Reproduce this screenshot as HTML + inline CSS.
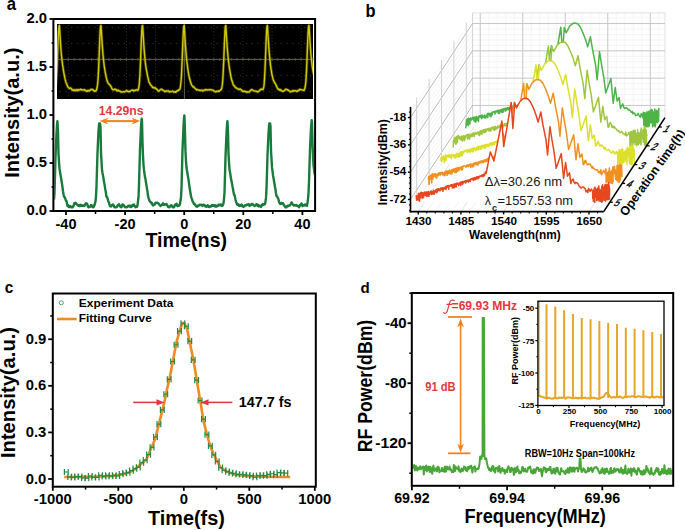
<!DOCTYPE html>
<html><head><meta charset="utf-8"><style>
html,body{margin:0;padding:0;background:#fff;overflow:hidden}
svg{display:block}
text{font-family:"Liberation Sans",sans-serif}
</style></head><body>
<svg width="685" height="530" viewBox="0 0 685 530">
<rect width="685" height="530" fill="#fff"/>
<rect x="57" y="24" width="256" height="75" fill="#000"/>
<g fill="#2e2e28"><rect x="67.8" y="25" width="1" height="1"/><rect x="67.8" y="28.2" width="1" height="1"/><rect x="67.8" y="31.4" width="1" height="1"/><rect x="67.8" y="34.6" width="1" height="1"/><rect x="67.8" y="37.8" width="1" height="1"/><rect x="67.8" y="41" width="1" height="1"/><rect x="67.8" y="44.2" width="1" height="1"/><rect x="67.8" y="47.4" width="1" height="1"/><rect x="67.8" y="50.6" width="1" height="1"/><rect x="67.8" y="53.8" width="1" height="1"/><rect x="67.8" y="57" width="1" height="1"/><rect x="67.8" y="60.2" width="1" height="1"/><rect x="67.8" y="63.4" width="1" height="1"/><rect x="67.8" y="66.6" width="1" height="1"/><rect x="67.8" y="69.8" width="1" height="1"/><rect x="67.8" y="73" width="1" height="1"/><rect x="67.8" y="76.2" width="1" height="1"/><rect x="67.8" y="79.4" width="1" height="1"/><rect x="67.8" y="82.6" width="1" height="1"/><rect x="67.8" y="85.8" width="1" height="1"/><rect x="67.8" y="89" width="1" height="1"/><rect x="67.8" y="92.2" width="1" height="1"/><rect x="67.8" y="95.4" width="1" height="1"/><rect x="96.9" y="25" width="1" height="1"/><rect x="96.9" y="28.2" width="1" height="1"/><rect x="96.9" y="31.4" width="1" height="1"/><rect x="96.9" y="34.6" width="1" height="1"/><rect x="96.9" y="37.8" width="1" height="1"/><rect x="96.9" y="41" width="1" height="1"/><rect x="96.9" y="44.2" width="1" height="1"/><rect x="96.9" y="47.4" width="1" height="1"/><rect x="96.9" y="50.6" width="1" height="1"/><rect x="96.9" y="53.8" width="1" height="1"/><rect x="96.9" y="57" width="1" height="1"/><rect x="96.9" y="60.2" width="1" height="1"/><rect x="96.9" y="63.4" width="1" height="1"/><rect x="96.9" y="66.6" width="1" height="1"/><rect x="96.9" y="69.8" width="1" height="1"/><rect x="96.9" y="73" width="1" height="1"/><rect x="96.9" y="76.2" width="1" height="1"/><rect x="96.9" y="79.4" width="1" height="1"/><rect x="96.9" y="82.6" width="1" height="1"/><rect x="96.9" y="85.8" width="1" height="1"/><rect x="96.9" y="89" width="1" height="1"/><rect x="96.9" y="92.2" width="1" height="1"/><rect x="96.9" y="95.4" width="1" height="1"/><rect x="126" y="25" width="1" height="1"/><rect x="126" y="28.2" width="1" height="1"/><rect x="126" y="31.4" width="1" height="1"/><rect x="126" y="34.6" width="1" height="1"/><rect x="126" y="37.8" width="1" height="1"/><rect x="126" y="41" width="1" height="1"/><rect x="126" y="44.2" width="1" height="1"/><rect x="126" y="47.4" width="1" height="1"/><rect x="126" y="50.6" width="1" height="1"/><rect x="126" y="53.8" width="1" height="1"/><rect x="126" y="57" width="1" height="1"/><rect x="126" y="60.2" width="1" height="1"/><rect x="126" y="63.4" width="1" height="1"/><rect x="126" y="66.6" width="1" height="1"/><rect x="126" y="69.8" width="1" height="1"/><rect x="126" y="73" width="1" height="1"/><rect x="126" y="76.2" width="1" height="1"/><rect x="126" y="79.4" width="1" height="1"/><rect x="126" y="82.6" width="1" height="1"/><rect x="126" y="85.8" width="1" height="1"/><rect x="126" y="89" width="1" height="1"/><rect x="126" y="92.2" width="1" height="1"/><rect x="126" y="95.4" width="1" height="1"/><rect x="155.1" y="25" width="1" height="1"/><rect x="155.1" y="28.2" width="1" height="1"/><rect x="155.1" y="31.4" width="1" height="1"/><rect x="155.1" y="34.6" width="1" height="1"/><rect x="155.1" y="37.8" width="1" height="1"/><rect x="155.1" y="41" width="1" height="1"/><rect x="155.1" y="44.2" width="1" height="1"/><rect x="155.1" y="47.4" width="1" height="1"/><rect x="155.1" y="50.6" width="1" height="1"/><rect x="155.1" y="53.8" width="1" height="1"/><rect x="155.1" y="57" width="1" height="1"/><rect x="155.1" y="60.2" width="1" height="1"/><rect x="155.1" y="63.4" width="1" height="1"/><rect x="155.1" y="66.6" width="1" height="1"/><rect x="155.1" y="69.8" width="1" height="1"/><rect x="155.1" y="73" width="1" height="1"/><rect x="155.1" y="76.2" width="1" height="1"/><rect x="155.1" y="79.4" width="1" height="1"/><rect x="155.1" y="82.6" width="1" height="1"/><rect x="155.1" y="85.8" width="1" height="1"/><rect x="155.1" y="89" width="1" height="1"/><rect x="155.1" y="92.2" width="1" height="1"/><rect x="155.1" y="95.4" width="1" height="1"/><rect x="184.2" y="25" width="1" height="1"/><rect x="184.2" y="28.2" width="1" height="1"/><rect x="184.2" y="31.4" width="1" height="1"/><rect x="184.2" y="34.6" width="1" height="1"/><rect x="184.2" y="37.8" width="1" height="1"/><rect x="184.2" y="41" width="1" height="1"/><rect x="184.2" y="44.2" width="1" height="1"/><rect x="184.2" y="47.4" width="1" height="1"/><rect x="184.2" y="50.6" width="1" height="1"/><rect x="184.2" y="53.8" width="1" height="1"/><rect x="184.2" y="57" width="1" height="1"/><rect x="184.2" y="60.2" width="1" height="1"/><rect x="184.2" y="63.4" width="1" height="1"/><rect x="184.2" y="66.6" width="1" height="1"/><rect x="184.2" y="69.8" width="1" height="1"/><rect x="184.2" y="73" width="1" height="1"/><rect x="184.2" y="76.2" width="1" height="1"/><rect x="184.2" y="79.4" width="1" height="1"/><rect x="184.2" y="82.6" width="1" height="1"/><rect x="184.2" y="85.8" width="1" height="1"/><rect x="184.2" y="89" width="1" height="1"/><rect x="184.2" y="92.2" width="1" height="1"/><rect x="184.2" y="95.4" width="1" height="1"/><rect x="213.3" y="25" width="1" height="1"/><rect x="213.3" y="28.2" width="1" height="1"/><rect x="213.3" y="31.4" width="1" height="1"/><rect x="213.3" y="34.6" width="1" height="1"/><rect x="213.3" y="37.8" width="1" height="1"/><rect x="213.3" y="41" width="1" height="1"/><rect x="213.3" y="44.2" width="1" height="1"/><rect x="213.3" y="47.4" width="1" height="1"/><rect x="213.3" y="50.6" width="1" height="1"/><rect x="213.3" y="53.8" width="1" height="1"/><rect x="213.3" y="57" width="1" height="1"/><rect x="213.3" y="60.2" width="1" height="1"/><rect x="213.3" y="63.4" width="1" height="1"/><rect x="213.3" y="66.6" width="1" height="1"/><rect x="213.3" y="69.8" width="1" height="1"/><rect x="213.3" y="73" width="1" height="1"/><rect x="213.3" y="76.2" width="1" height="1"/><rect x="213.3" y="79.4" width="1" height="1"/><rect x="213.3" y="82.6" width="1" height="1"/><rect x="213.3" y="85.8" width="1" height="1"/><rect x="213.3" y="89" width="1" height="1"/><rect x="213.3" y="92.2" width="1" height="1"/><rect x="213.3" y="95.4" width="1" height="1"/><rect x="242.4" y="25" width="1" height="1"/><rect x="242.4" y="28.2" width="1" height="1"/><rect x="242.4" y="31.4" width="1" height="1"/><rect x="242.4" y="34.6" width="1" height="1"/><rect x="242.4" y="37.8" width="1" height="1"/><rect x="242.4" y="41" width="1" height="1"/><rect x="242.4" y="44.2" width="1" height="1"/><rect x="242.4" y="47.4" width="1" height="1"/><rect x="242.4" y="50.6" width="1" height="1"/><rect x="242.4" y="53.8" width="1" height="1"/><rect x="242.4" y="57" width="1" height="1"/><rect x="242.4" y="60.2" width="1" height="1"/><rect x="242.4" y="63.4" width="1" height="1"/><rect x="242.4" y="66.6" width="1" height="1"/><rect x="242.4" y="69.8" width="1" height="1"/><rect x="242.4" y="73" width="1" height="1"/><rect x="242.4" y="76.2" width="1" height="1"/><rect x="242.4" y="79.4" width="1" height="1"/><rect x="242.4" y="82.6" width="1" height="1"/><rect x="242.4" y="85.8" width="1" height="1"/><rect x="242.4" y="89" width="1" height="1"/><rect x="242.4" y="92.2" width="1" height="1"/><rect x="242.4" y="95.4" width="1" height="1"/><rect x="271.5" y="25" width="1" height="1"/><rect x="271.5" y="28.2" width="1" height="1"/><rect x="271.5" y="31.4" width="1" height="1"/><rect x="271.5" y="34.6" width="1" height="1"/><rect x="271.5" y="37.8" width="1" height="1"/><rect x="271.5" y="41" width="1" height="1"/><rect x="271.5" y="44.2" width="1" height="1"/><rect x="271.5" y="47.4" width="1" height="1"/><rect x="271.5" y="50.6" width="1" height="1"/><rect x="271.5" y="53.8" width="1" height="1"/><rect x="271.5" y="57" width="1" height="1"/><rect x="271.5" y="60.2" width="1" height="1"/><rect x="271.5" y="63.4" width="1" height="1"/><rect x="271.5" y="66.6" width="1" height="1"/><rect x="271.5" y="69.8" width="1" height="1"/><rect x="271.5" y="73" width="1" height="1"/><rect x="271.5" y="76.2" width="1" height="1"/><rect x="271.5" y="79.4" width="1" height="1"/><rect x="271.5" y="82.6" width="1" height="1"/><rect x="271.5" y="85.8" width="1" height="1"/><rect x="271.5" y="89" width="1" height="1"/><rect x="271.5" y="92.2" width="1" height="1"/><rect x="271.5" y="95.4" width="1" height="1"/><rect x="300.6" y="25" width="1" height="1"/><rect x="300.6" y="28.2" width="1" height="1"/><rect x="300.6" y="31.4" width="1" height="1"/><rect x="300.6" y="34.6" width="1" height="1"/><rect x="300.6" y="37.8" width="1" height="1"/><rect x="300.6" y="41" width="1" height="1"/><rect x="300.6" y="44.2" width="1" height="1"/><rect x="300.6" y="47.4" width="1" height="1"/><rect x="300.6" y="50.6" width="1" height="1"/><rect x="300.6" y="53.8" width="1" height="1"/><rect x="300.6" y="57" width="1" height="1"/><rect x="300.6" y="60.2" width="1" height="1"/><rect x="300.6" y="63.4" width="1" height="1"/><rect x="300.6" y="66.6" width="1" height="1"/><rect x="300.6" y="69.8" width="1" height="1"/><rect x="300.6" y="73" width="1" height="1"/><rect x="300.6" y="76.2" width="1" height="1"/><rect x="300.6" y="79.4" width="1" height="1"/><rect x="300.6" y="82.6" width="1" height="1"/><rect x="300.6" y="85.8" width="1" height="1"/><rect x="300.6" y="89" width="1" height="1"/><rect x="300.6" y="92.2" width="1" height="1"/><rect x="300.6" y="95.4" width="1" height="1"/><rect x="59.5" y="26.9" width="1.2" height="1.2"/><rect x="65.32" y="26.9" width="1.2" height="1.2"/><rect x="71.14" y="26.9" width="1.2" height="1.2"/><rect x="76.96" y="26.9" width="1.2" height="1.2"/><rect x="82.78" y="26.9" width="1.2" height="1.2"/><rect x="88.6" y="26.9" width="1.2" height="1.2"/><rect x="94.42" y="26.9" width="1.2" height="1.2"/><rect x="100.24" y="26.9" width="1.2" height="1.2"/><rect x="106.06" y="26.9" width="1.2" height="1.2"/><rect x="111.88" y="26.9" width="1.2" height="1.2"/><rect x="117.7" y="26.9" width="1.2" height="1.2"/><rect x="123.52" y="26.9" width="1.2" height="1.2"/><rect x="129.34" y="26.9" width="1.2" height="1.2"/><rect x="135.16" y="26.9" width="1.2" height="1.2"/><rect x="140.98" y="26.9" width="1.2" height="1.2"/><rect x="146.8" y="26.9" width="1.2" height="1.2"/><rect x="152.62" y="26.9" width="1.2" height="1.2"/><rect x="158.44" y="26.9" width="1.2" height="1.2"/><rect x="164.26" y="26.9" width="1.2" height="1.2"/><rect x="170.08" y="26.9" width="1.2" height="1.2"/><rect x="175.9" y="26.9" width="1.2" height="1.2"/><rect x="181.72" y="26.9" width="1.2" height="1.2"/><rect x="187.54" y="26.9" width="1.2" height="1.2"/><rect x="193.36" y="26.9" width="1.2" height="1.2"/><rect x="199.18" y="26.9" width="1.2" height="1.2"/><rect x="205" y="26.9" width="1.2" height="1.2"/><rect x="210.82" y="26.9" width="1.2" height="1.2"/><rect x="216.64" y="26.9" width="1.2" height="1.2"/><rect x="222.46" y="26.9" width="1.2" height="1.2"/><rect x="228.28" y="26.9" width="1.2" height="1.2"/><rect x="234.1" y="26.9" width="1.2" height="1.2"/><rect x="239.92" y="26.9" width="1.2" height="1.2"/><rect x="245.74" y="26.9" width="1.2" height="1.2"/><rect x="251.56" y="26.9" width="1.2" height="1.2"/><rect x="257.38" y="26.9" width="1.2" height="1.2"/><rect x="263.2" y="26.9" width="1.2" height="1.2"/><rect x="269.02" y="26.9" width="1.2" height="1.2"/><rect x="274.84" y="26.9" width="1.2" height="1.2"/><rect x="280.66" y="26.9" width="1.2" height="1.2"/><rect x="286.48" y="26.9" width="1.2" height="1.2"/><rect x="292.3" y="26.9" width="1.2" height="1.2"/><rect x="298.12" y="26.9" width="1.2" height="1.2"/><rect x="303.94" y="26.9" width="1.2" height="1.2"/><rect x="309.76" y="26.9" width="1.2" height="1.2"/><rect x="59.5" y="42.9" width="1.2" height="1.2"/><rect x="65.32" y="42.9" width="1.2" height="1.2"/><rect x="71.14" y="42.9" width="1.2" height="1.2"/><rect x="76.96" y="42.9" width="1.2" height="1.2"/><rect x="82.78" y="42.9" width="1.2" height="1.2"/><rect x="88.6" y="42.9" width="1.2" height="1.2"/><rect x="94.42" y="42.9" width="1.2" height="1.2"/><rect x="100.24" y="42.9" width="1.2" height="1.2"/><rect x="106.06" y="42.9" width="1.2" height="1.2"/><rect x="111.88" y="42.9" width="1.2" height="1.2"/><rect x="117.7" y="42.9" width="1.2" height="1.2"/><rect x="123.52" y="42.9" width="1.2" height="1.2"/><rect x="129.34" y="42.9" width="1.2" height="1.2"/><rect x="135.16" y="42.9" width="1.2" height="1.2"/><rect x="140.98" y="42.9" width="1.2" height="1.2"/><rect x="146.8" y="42.9" width="1.2" height="1.2"/><rect x="152.62" y="42.9" width="1.2" height="1.2"/><rect x="158.44" y="42.9" width="1.2" height="1.2"/><rect x="164.26" y="42.9" width="1.2" height="1.2"/><rect x="170.08" y="42.9" width="1.2" height="1.2"/><rect x="175.9" y="42.9" width="1.2" height="1.2"/><rect x="181.72" y="42.9" width="1.2" height="1.2"/><rect x="187.54" y="42.9" width="1.2" height="1.2"/><rect x="193.36" y="42.9" width="1.2" height="1.2"/><rect x="199.18" y="42.9" width="1.2" height="1.2"/><rect x="205" y="42.9" width="1.2" height="1.2"/><rect x="210.82" y="42.9" width="1.2" height="1.2"/><rect x="216.64" y="42.9" width="1.2" height="1.2"/><rect x="222.46" y="42.9" width="1.2" height="1.2"/><rect x="228.28" y="42.9" width="1.2" height="1.2"/><rect x="234.1" y="42.9" width="1.2" height="1.2"/><rect x="239.92" y="42.9" width="1.2" height="1.2"/><rect x="245.74" y="42.9" width="1.2" height="1.2"/><rect x="251.56" y="42.9" width="1.2" height="1.2"/><rect x="257.38" y="42.9" width="1.2" height="1.2"/><rect x="263.2" y="42.9" width="1.2" height="1.2"/><rect x="269.02" y="42.9" width="1.2" height="1.2"/><rect x="274.84" y="42.9" width="1.2" height="1.2"/><rect x="280.66" y="42.9" width="1.2" height="1.2"/><rect x="286.48" y="42.9" width="1.2" height="1.2"/><rect x="292.3" y="42.9" width="1.2" height="1.2"/><rect x="298.12" y="42.9" width="1.2" height="1.2"/><rect x="303.94" y="42.9" width="1.2" height="1.2"/><rect x="309.76" y="42.9" width="1.2" height="1.2"/><rect x="59.5" y="74.9" width="1.2" height="1.2"/><rect x="65.32" y="74.9" width="1.2" height="1.2"/><rect x="71.14" y="74.9" width="1.2" height="1.2"/><rect x="76.96" y="74.9" width="1.2" height="1.2"/><rect x="82.78" y="74.9" width="1.2" height="1.2"/><rect x="88.6" y="74.9" width="1.2" height="1.2"/><rect x="94.42" y="74.9" width="1.2" height="1.2"/><rect x="100.24" y="74.9" width="1.2" height="1.2"/><rect x="106.06" y="74.9" width="1.2" height="1.2"/><rect x="111.88" y="74.9" width="1.2" height="1.2"/><rect x="117.7" y="74.9" width="1.2" height="1.2"/><rect x="123.52" y="74.9" width="1.2" height="1.2"/><rect x="129.34" y="74.9" width="1.2" height="1.2"/><rect x="135.16" y="74.9" width="1.2" height="1.2"/><rect x="140.98" y="74.9" width="1.2" height="1.2"/><rect x="146.8" y="74.9" width="1.2" height="1.2"/><rect x="152.62" y="74.9" width="1.2" height="1.2"/><rect x="158.44" y="74.9" width="1.2" height="1.2"/><rect x="164.26" y="74.9" width="1.2" height="1.2"/><rect x="170.08" y="74.9" width="1.2" height="1.2"/><rect x="175.9" y="74.9" width="1.2" height="1.2"/><rect x="181.72" y="74.9" width="1.2" height="1.2"/><rect x="187.54" y="74.9" width="1.2" height="1.2"/><rect x="193.36" y="74.9" width="1.2" height="1.2"/><rect x="199.18" y="74.9" width="1.2" height="1.2"/><rect x="205" y="74.9" width="1.2" height="1.2"/><rect x="210.82" y="74.9" width="1.2" height="1.2"/><rect x="216.64" y="74.9" width="1.2" height="1.2"/><rect x="222.46" y="74.9" width="1.2" height="1.2"/><rect x="228.28" y="74.9" width="1.2" height="1.2"/><rect x="234.1" y="74.9" width="1.2" height="1.2"/><rect x="239.92" y="74.9" width="1.2" height="1.2"/><rect x="245.74" y="74.9" width="1.2" height="1.2"/><rect x="251.56" y="74.9" width="1.2" height="1.2"/><rect x="257.38" y="74.9" width="1.2" height="1.2"/><rect x="263.2" y="74.9" width="1.2" height="1.2"/><rect x="269.02" y="74.9" width="1.2" height="1.2"/><rect x="274.84" y="74.9" width="1.2" height="1.2"/><rect x="280.66" y="74.9" width="1.2" height="1.2"/><rect x="286.48" y="74.9" width="1.2" height="1.2"/><rect x="292.3" y="74.9" width="1.2" height="1.2"/><rect x="298.12" y="74.9" width="1.2" height="1.2"/><rect x="303.94" y="74.9" width="1.2" height="1.2"/><rect x="309.76" y="74.9" width="1.2" height="1.2"/><rect x="59.5" y="90.9" width="1.2" height="1.2"/><rect x="65.32" y="90.9" width="1.2" height="1.2"/><rect x="71.14" y="90.9" width="1.2" height="1.2"/><rect x="76.96" y="90.9" width="1.2" height="1.2"/><rect x="82.78" y="90.9" width="1.2" height="1.2"/><rect x="88.6" y="90.9" width="1.2" height="1.2"/><rect x="94.42" y="90.9" width="1.2" height="1.2"/><rect x="100.24" y="90.9" width="1.2" height="1.2"/><rect x="106.06" y="90.9" width="1.2" height="1.2"/><rect x="111.88" y="90.9" width="1.2" height="1.2"/><rect x="117.7" y="90.9" width="1.2" height="1.2"/><rect x="123.52" y="90.9" width="1.2" height="1.2"/><rect x="129.34" y="90.9" width="1.2" height="1.2"/><rect x="135.16" y="90.9" width="1.2" height="1.2"/><rect x="140.98" y="90.9" width="1.2" height="1.2"/><rect x="146.8" y="90.9" width="1.2" height="1.2"/><rect x="152.62" y="90.9" width="1.2" height="1.2"/><rect x="158.44" y="90.9" width="1.2" height="1.2"/><rect x="164.26" y="90.9" width="1.2" height="1.2"/><rect x="170.08" y="90.9" width="1.2" height="1.2"/><rect x="175.9" y="90.9" width="1.2" height="1.2"/><rect x="181.72" y="90.9" width="1.2" height="1.2"/><rect x="187.54" y="90.9" width="1.2" height="1.2"/><rect x="193.36" y="90.9" width="1.2" height="1.2"/><rect x="199.18" y="90.9" width="1.2" height="1.2"/><rect x="205" y="90.9" width="1.2" height="1.2"/><rect x="210.82" y="90.9" width="1.2" height="1.2"/><rect x="216.64" y="90.9" width="1.2" height="1.2"/><rect x="222.46" y="90.9" width="1.2" height="1.2"/><rect x="228.28" y="90.9" width="1.2" height="1.2"/><rect x="234.1" y="90.9" width="1.2" height="1.2"/><rect x="239.92" y="90.9" width="1.2" height="1.2"/><rect x="245.74" y="90.9" width="1.2" height="1.2"/><rect x="251.56" y="90.9" width="1.2" height="1.2"/><rect x="257.38" y="90.9" width="1.2" height="1.2"/><rect x="263.2" y="90.9" width="1.2" height="1.2"/><rect x="269.02" y="90.9" width="1.2" height="1.2"/><rect x="274.84" y="90.9" width="1.2" height="1.2"/><rect x="280.66" y="90.9" width="1.2" height="1.2"/><rect x="286.48" y="90.9" width="1.2" height="1.2"/><rect x="292.3" y="90.9" width="1.2" height="1.2"/><rect x="298.12" y="90.9" width="1.2" height="1.2"/><rect x="303.94" y="90.9" width="1.2" height="1.2"/><rect x="309.76" y="90.9" width="1.2" height="1.2"/></g>
<line x1="57" y1="59.4" x2="313" y2="59.4" stroke="#726e5c" stroke-width="0.9"/>
<g fill="#57544a"><rect x="67.7" y="58.2" width="1.2" height="2.4"/><rect x="73.52" y="58.2" width="1.2" height="2.4"/><rect x="79.34" y="58.2" width="1.2" height="2.4"/><rect x="85.16" y="58.2" width="1.2" height="2.4"/><rect x="90.98" y="58.2" width="1.2" height="2.4"/><rect x="96.8" y="58.2" width="1.2" height="2.4"/><rect x="102.62" y="58.2" width="1.2" height="2.4"/><rect x="108.44" y="58.2" width="1.2" height="2.4"/><rect x="114.26" y="58.2" width="1.2" height="2.4"/><rect x="120.08" y="58.2" width="1.2" height="2.4"/><rect x="125.9" y="58.2" width="1.2" height="2.4"/><rect x="131.72" y="58.2" width="1.2" height="2.4"/><rect x="137.54" y="58.2" width="1.2" height="2.4"/><rect x="143.36" y="58.2" width="1.2" height="2.4"/><rect x="149.18" y="58.2" width="1.2" height="2.4"/><rect x="155" y="58.2" width="1.2" height="2.4"/><rect x="160.82" y="58.2" width="1.2" height="2.4"/><rect x="166.64" y="58.2" width="1.2" height="2.4"/><rect x="172.46" y="58.2" width="1.2" height="2.4"/><rect x="178.28" y="58.2" width="1.2" height="2.4"/><rect x="184.1" y="58.2" width="1.2" height="2.4"/><rect x="189.92" y="58.2" width="1.2" height="2.4"/><rect x="195.74" y="58.2" width="1.2" height="2.4"/><rect x="201.56" y="58.2" width="1.2" height="2.4"/><rect x="207.38" y="58.2" width="1.2" height="2.4"/><rect x="213.2" y="58.2" width="1.2" height="2.4"/><rect x="219.02" y="58.2" width="1.2" height="2.4"/><rect x="224.84" y="58.2" width="1.2" height="2.4"/><rect x="230.66" y="58.2" width="1.2" height="2.4"/><rect x="236.48" y="58.2" width="1.2" height="2.4"/><rect x="242.3" y="58.2" width="1.2" height="2.4"/><rect x="248.12" y="58.2" width="1.2" height="2.4"/><rect x="253.94" y="58.2" width="1.2" height="2.4"/><rect x="259.76" y="58.2" width="1.2" height="2.4"/><rect x="265.58" y="58.2" width="1.2" height="2.4"/><rect x="271.4" y="58.2" width="1.2" height="2.4"/><rect x="277.22" y="58.2" width="1.2" height="2.4"/><rect x="283.04" y="58.2" width="1.2" height="2.4"/><rect x="288.86" y="58.2" width="1.2" height="2.4"/><rect x="294.68" y="58.2" width="1.2" height="2.4"/><rect x="300.5" y="58.2" width="1.2" height="2.4"/><rect x="306.32" y="58.2" width="1.2" height="2.4"/><rect x="312.14" y="58.2" width="1.2" height="2.4"/></g>
<line x1="184.4" y1="24" x2="184.4" y2="99" stroke="#6a6656" stroke-width="0.9"/>
<clipPath id="ci"><rect x="57" y="24" width="256" height="75"/></clipPath>
<g clip-path="url(#ci)"><polyline points="55,89.57 55.4,88.34 55.8,86.12 56.2,82.28 56.6,76.41 57,68.64 57.4,58.96 57.8,48.77 58.2,38.69 58.6,30.56 59,26.08 59.4,25.5 59.8,31.38 60.2,38.51 60.6,44.59 61,49.84 61.4,54.81 61.8,58.64 62.2,61.95 62.6,64.96 63,67.45 63.4,70.12 63.8,72.6 64.2,74.77 64.6,76.83 65,78.69 65.4,80.25 65.8,81.95 66.2,83.02 66.6,83.84 67,84.8 67.4,85.93 67.8,86.75 68.2,87.5 68.6,87.73 69,87.99 69.4,88.39 69.8,87.95 70.2,88.06 70.6,87.95 71,88.31 71.4,88.58 71.8,89.39 72.2,90.05 72.6,90.13 73,89.77 73.4,90.33 73.8,90.1 74.2,90.71 74.6,90.3 75,89.68 75.4,90.3 75.8,90.85 76.2,90.33 76.6,90.04 77,89.5 77.4,90.03 77.8,90.67 78.2,90.24 78.6,89.79 79,89.66 79.4,89.65 79.8,90.08 80.2,89.4 80.6,89.23 81,89.53 81.4,89.49 81.8,90.06 82.2,90.13 82.6,90 83,89.95 83.4,89.84 83.8,89.63 84.2,89.71 84.6,89.92 85,90.52 85.4,90.22 85.8,90.91 86.2,90.72 86.6,90.89 87,91.41 87.4,91.12 87.8,90.49 88.2,91.1 88.6,90.51 89,90.55 89.4,90.89 89.8,90.42 90.2,90.11 90.6,90.09 91,89.29 91.4,89.62 91.8,89.61 92.2,89.46 92.6,89.49 93,89.63 93.4,90.42 93.8,90.77 94.2,90.76 94.6,91.31 95,90.92 95.4,90.67 95.8,90.93 96.2,90.49 96.6,89.63 97,88.02 97.4,85.65 97.8,82.53 98.2,76.92 98.6,69.22 99,59.67 99.4,49.18 99.8,38.93 100.2,30.64 100.6,26.09 101,25.5 101.4,31.31 101.8,38.22 102.2,44.24 102.6,49.74 103,54.7 103.4,59.04 103.8,62.39 104.2,65.93 104.6,68.46 105,70.98 105.4,73.05 105.8,75.2 106.2,77.18 106.6,78.8 107,80.32 107.4,81.63 107.8,82.53 108.2,83.25 108.6,83.75 109,84.02 109.4,84.57 109.8,84.68 110.2,85.48 110.6,86.01 111,86.47 111.4,87.2 111.8,88.29 112.2,88.97 112.6,89.49 113,89.71 113.4,89.91 113.8,89.79 114.2,89.17 114.6,89.24 115,89.39 115.4,89.72 115.8,89.32 116.2,89.83 116.6,90.29 117,90.98 117.4,90.51 117.8,90.82 118.2,90.08 118.6,90.58 119,90.7 119.4,91.1 119.8,91.13 120.2,91.5 120.6,91.33 121,92.1 121.4,91.94 121.8,91.91 122.2,91.92 122.6,92.05 123,91.8 123.4,91.81 123.8,91.77 124.2,91.98 124.6,91.93 125,91.47 125.4,91.22 125.8,91.39 126.2,90.77 126.6,90.57 127,90.95 127.4,91.18 127.8,91.48 128.2,91.31 128.6,91.43 129,91.87 129.4,91.7 129.8,91.56 130.2,90.86 130.6,90.88 131,90.56 131.4,90.44 131.8,90.35 132.2,90.16 132.6,90.04 133,90.41 133.4,90.29 133.8,91.08 134.2,90.77 134.6,90.36 135,90.42 135.4,90.4 135.8,90.14 136.2,89.73 136.6,89.7 137,90 137.4,90.25 137.8,90.46 138.2,89.49 138.6,88.62 139,86.35 139.4,82.23 139.8,76.73 140.2,69.31 140.6,59.71 141,49.11 141.4,38.83 141.8,30.66 142.2,26.09 142.6,25.5 143,31.34 143.4,38.31 143.8,44.55 144.2,50.13 144.6,54.95 145,59.23 145.4,62.98 145.8,65.99 146.2,68.53 146.6,70.89 147,72.91 147.4,75.03 147.8,76.87 148.2,78.69 148.6,80.59 149,81.99 149.4,82.8 149.8,83.27 150.2,84.41 150.6,84.92 151,85.46 151.4,85.68 151.8,86.06 152.2,87.11 152.6,87.49 153,87.21 153.4,87.86 153.8,87.54 154.2,88 154.6,88.15 155,87.76 155.4,87.95 155.8,88.52 156.2,88.64 156.6,89.28 157,89.23 157.4,89.81 157.8,90.61 158.2,91.24 158.6,90.93 159,91 159.4,90.65 159.8,90.12 160.2,89.86 160.6,89.68 161,89.26 161.4,89.35 161.8,89.26 162.2,89.74 162.6,90.21 163,90.35 163.4,90.4 163.8,90.6 164.2,91.07 164.6,91.58 165,91.05 165.4,91.42 165.8,91.52 166.2,90.97 166.6,91.03 167,90.88 167.4,90.89 167.8,91.15 168.2,90.83 168.6,90.97 169,91.57 169.4,92.01 169.8,91.87 170.2,91.64 170.6,91.49 171,91.62 171.4,91.57 171.8,91.43 172.2,91.23 172.6,91.01 173,91.23 173.4,91.92 173.8,92.15 174.2,91.9 174.6,92.03 175,91.68 175.4,92.3 175.8,92.26 176.2,91.7 176.6,90.91 177,90.82 177.4,90.6 177.8,91 178.2,90.6 178.6,89.81 179,90.08 179.4,89.75 179.8,89.41 180.2,87.82 180.6,85.2 181,81.75 181.4,76.27 181.8,68.25 182.2,59.1 182.6,48.64 183,38.71 183.4,30.63 183.8,26.09 184.2,25.5 184.6,31.46 185,38.5 185.4,44.62 185.8,50 186.2,54.65 186.6,58.78 187,62.57 187.4,65.62 187.8,68.96 188.2,71.74 188.6,73.88 189,75.95 189.4,77.8 189.8,79.56 190.2,80.71 190.6,81.94 191,83.33 191.4,84.45 191.8,85.45 192.2,85.68 192.6,86.03 193,86.85 193.4,87.15 193.8,86.81 194.2,87.58 194.6,87.87 195,88.35 195.4,88.85 195.8,89.14 196.2,89.25 196.6,90.02 197,89.39 197.4,89.56 197.8,89.7 198.2,89.95 198.6,90.36 199,90.26 199.4,90.14 199.8,90.27 200.2,90.23 200.6,90.64 201,90.64 201.4,90.29 201.8,90.36 202.2,90.15 202.6,90.61 203,91.07 203.4,90.49 203.8,90.4 204.2,90.01 204.6,89.92 205,89.96 205.4,90.04 205.8,89.51 206.2,89.72 206.6,89.59 207,89.67 207.4,90.15 207.8,90.06 208.2,89.91 208.6,89.85 209,89.72 209.4,89.64 209.8,89.94 210.2,89.62 210.6,89.88 211,89.9 211.4,89.82 211.8,89.83 212.2,89.92 212.6,90.1 213,90.24 213.4,90.63 213.8,90.71 214.2,91.33 214.6,91.35 215,91.45 215.4,91.6 215.8,91.94 216.2,91.46 216.6,91.2 217,91.26 217.4,91.24 217.8,91.47 218.2,91.54 218.6,90.86 219,90.79 219.4,91.15 219.8,90.54 220.2,90.37 220.6,90.09 221,89.37 221.4,89.29 221.8,87.93 222.2,85.4 222.6,82.03 223,76.39 223.4,68.37 223.8,59.1 224.2,48.71 224.6,38.77 225,30.61 225.4,26.09 225.8,25.5 226.2,31.4 226.6,38.46 227,44.5 227.4,49.64 227.8,54.38 228.2,58.35 228.6,61.91 229,65.15 229.4,67.93 229.8,70.41 230.2,72.7 230.6,74.73 231,77.03 231.4,78.89 231.8,80.57 232.2,81.42 232.6,82.42 233,83.97 233.4,85.02 233.8,85.7 234.2,85.81 234.6,86 235,86.85 235.4,87.61 235.8,87.71 236.2,87.67 236.6,87.92 237,88.63 237.4,88.63 237.8,88.78 238.2,89.24 238.6,89.23 239,89.53 239.4,89.19 239.8,89.01 240.2,88.96 240.6,89.44 241,89.57 241.4,89.9 241.8,90.55 242.2,91.01 242.6,90.96 243,91.52 243.4,91.22 243.8,91.41 244.2,91.53 244.6,91.02 245,91.29 245.4,91.61 245.8,91.79 246.2,92.08 246.6,91.58 247,91.67 247.4,92.24 247.8,92.05 248.2,92.08 248.6,92.08 249,91.72 249.4,92.01 249.8,91.28 250.2,90.81 250.6,90.61 251,89.94 251.4,89.58 251.8,89.79 252.2,89.7 252.6,89.85 253,90.39 253.4,90.56 253.8,90.86 254.2,91.13 254.6,91.07 255,90.99 255.4,91.13 255.8,91.18 256.2,91.16 256.6,91.48 257,91.57 257.4,91.94 257.8,91.48 258.2,91.69 258.6,91.45 259,91.11 259.4,90.84 259.8,90.21 260.2,89.51 260.6,89.83 261,89.36 261.4,88.91 261.8,89.43 262.2,89.42 262.6,89.52 263,89.54 263.4,88.43 263.8,86.89 264.2,83.4 264.6,77.61 265,69.51 265.4,59.91 265.8,49.16 266.2,38.78 266.6,30.63 267,26.09 267.4,25.5 267.8,31.3 268.2,38.21 268.6,44.28 269,49.66 269.4,54.41 269.8,58.72 270.2,62.46 270.6,65.98 271,68.81 271.4,71.17 271.8,73.81 272.2,75.55 272.6,77.21 273,78.9 273.4,80.05 273.8,80.98 274.2,82.01 274.6,82.46 275,82.95 275.4,84.05 275.8,84.42 276.2,85.48 276.6,86.59 277,86.87 277.4,88.06 277.8,89.08 278.2,88.81 278.6,89.53 279,89.36 279.4,89.34 279.8,90.33 280.2,89.85 280.6,89.62 281,90.51 281.4,90.46 281.8,90.6 282.2,91.13 282.6,91.07 283,91.46 283.4,91.16 283.8,90.93 284.2,90.75 284.6,90.55 285,89.77 285.4,89.54 285.8,89.15 286.2,89.46 286.6,89.52 287,89.54 287.4,89.61 287.8,90.1 288.2,90.01 288.6,90.61 289,90.7 289.4,91 289.8,91.45 290.2,91.87 290.6,91.58 291,91.31 291.4,91.42 291.8,91.65 292.2,91.32 292.6,90.79 293,90.39 293.4,90.79 293.8,91.19 294.2,90.92 294.6,90.79 295,90.91 295.4,90.76 295.8,90.74 296.2,91 296.6,91.32 297,91.57 297.4,91.04 297.8,90.43 298.2,90.5 298.6,90.66 299,90.34 299.4,89.62 299.8,89.32 300.2,89.35 300.6,89.37 301,89.73 301.4,89.85 301.8,89.85 302.2,90.09 302.6,90.03 303,90.13 303.4,90.3 303.8,90.23 304.2,90.17 304.6,89.03 305,87.55 305.4,85.57 305.8,82.18 306.2,76.88 306.6,68.84 307,59.16 307.4,48.77 307.8,38.78 308.2,30.6 308.6,26.09 309,25.5 309.4,31.35 309.8,38.37 310.2,44.68 310.6,50.21 311,55.09 311.4,59.25 311.8,62.57 312.2,66.16 312.6,68.8 313,70.95 313.4,72.96 313.8,74.96" fill="none" stroke="#7a7600" stroke-width="3.0" stroke-linejoin="round" opacity="0.5"/><polyline points="55,89.57 55.4,88.34 55.8,86.12 56.2,82.28 56.6,76.41 57,68.64 57.4,58.96 57.8,48.77 58.2,38.69 58.6,30.56 59,26.08 59.4,25.5 59.8,31.38 60.2,38.51 60.6,44.59 61,49.84 61.4,54.81 61.8,58.64 62.2,61.95 62.6,64.96 63,67.45 63.4,70.12 63.8,72.6 64.2,74.77 64.6,76.83 65,78.69 65.4,80.25 65.8,81.95 66.2,83.02 66.6,83.84 67,84.8 67.4,85.93 67.8,86.75 68.2,87.5 68.6,87.73 69,87.99 69.4,88.39 69.8,87.95 70.2,88.06 70.6,87.95 71,88.31 71.4,88.58 71.8,89.39 72.2,90.05 72.6,90.13 73,89.77 73.4,90.33 73.8,90.1 74.2,90.71 74.6,90.3 75,89.68 75.4,90.3 75.8,90.85 76.2,90.33 76.6,90.04 77,89.5 77.4,90.03 77.8,90.67 78.2,90.24 78.6,89.79 79,89.66 79.4,89.65 79.8,90.08 80.2,89.4 80.6,89.23 81,89.53 81.4,89.49 81.8,90.06 82.2,90.13 82.6,90 83,89.95 83.4,89.84 83.8,89.63 84.2,89.71 84.6,89.92 85,90.52 85.4,90.22 85.8,90.91 86.2,90.72 86.6,90.89 87,91.41 87.4,91.12 87.8,90.49 88.2,91.1 88.6,90.51 89,90.55 89.4,90.89 89.8,90.42 90.2,90.11 90.6,90.09 91,89.29 91.4,89.62 91.8,89.61 92.2,89.46 92.6,89.49 93,89.63 93.4,90.42 93.8,90.77 94.2,90.76 94.6,91.31 95,90.92 95.4,90.67 95.8,90.93 96.2,90.49 96.6,89.63 97,88.02 97.4,85.65 97.8,82.53 98.2,76.92 98.6,69.22 99,59.67 99.4,49.18 99.8,38.93 100.2,30.64 100.6,26.09 101,25.5 101.4,31.31 101.8,38.22 102.2,44.24 102.6,49.74 103,54.7 103.4,59.04 103.8,62.39 104.2,65.93 104.6,68.46 105,70.98 105.4,73.05 105.8,75.2 106.2,77.18 106.6,78.8 107,80.32 107.4,81.63 107.8,82.53 108.2,83.25 108.6,83.75 109,84.02 109.4,84.57 109.8,84.68 110.2,85.48 110.6,86.01 111,86.47 111.4,87.2 111.8,88.29 112.2,88.97 112.6,89.49 113,89.71 113.4,89.91 113.8,89.79 114.2,89.17 114.6,89.24 115,89.39 115.4,89.72 115.8,89.32 116.2,89.83 116.6,90.29 117,90.98 117.4,90.51 117.8,90.82 118.2,90.08 118.6,90.58 119,90.7 119.4,91.1 119.8,91.13 120.2,91.5 120.6,91.33 121,92.1 121.4,91.94 121.8,91.91 122.2,91.92 122.6,92.05 123,91.8 123.4,91.81 123.8,91.77 124.2,91.98 124.6,91.93 125,91.47 125.4,91.22 125.8,91.39 126.2,90.77 126.6,90.57 127,90.95 127.4,91.18 127.8,91.48 128.2,91.31 128.6,91.43 129,91.87 129.4,91.7 129.8,91.56 130.2,90.86 130.6,90.88 131,90.56 131.4,90.44 131.8,90.35 132.2,90.16 132.6,90.04 133,90.41 133.4,90.29 133.8,91.08 134.2,90.77 134.6,90.36 135,90.42 135.4,90.4 135.8,90.14 136.2,89.73 136.6,89.7 137,90 137.4,90.25 137.8,90.46 138.2,89.49 138.6,88.62 139,86.35 139.4,82.23 139.8,76.73 140.2,69.31 140.6,59.71 141,49.11 141.4,38.83 141.8,30.66 142.2,26.09 142.6,25.5 143,31.34 143.4,38.31 143.8,44.55 144.2,50.13 144.6,54.95 145,59.23 145.4,62.98 145.8,65.99 146.2,68.53 146.6,70.89 147,72.91 147.4,75.03 147.8,76.87 148.2,78.69 148.6,80.59 149,81.99 149.4,82.8 149.8,83.27 150.2,84.41 150.6,84.92 151,85.46 151.4,85.68 151.8,86.06 152.2,87.11 152.6,87.49 153,87.21 153.4,87.86 153.8,87.54 154.2,88 154.6,88.15 155,87.76 155.4,87.95 155.8,88.52 156.2,88.64 156.6,89.28 157,89.23 157.4,89.81 157.8,90.61 158.2,91.24 158.6,90.93 159,91 159.4,90.65 159.8,90.12 160.2,89.86 160.6,89.68 161,89.26 161.4,89.35 161.8,89.26 162.2,89.74 162.6,90.21 163,90.35 163.4,90.4 163.8,90.6 164.2,91.07 164.6,91.58 165,91.05 165.4,91.42 165.8,91.52 166.2,90.97 166.6,91.03 167,90.88 167.4,90.89 167.8,91.15 168.2,90.83 168.6,90.97 169,91.57 169.4,92.01 169.8,91.87 170.2,91.64 170.6,91.49 171,91.62 171.4,91.57 171.8,91.43 172.2,91.23 172.6,91.01 173,91.23 173.4,91.92 173.8,92.15 174.2,91.9 174.6,92.03 175,91.68 175.4,92.3 175.8,92.26 176.2,91.7 176.6,90.91 177,90.82 177.4,90.6 177.8,91 178.2,90.6 178.6,89.81 179,90.08 179.4,89.75 179.8,89.41 180.2,87.82 180.6,85.2 181,81.75 181.4,76.27 181.8,68.25 182.2,59.1 182.6,48.64 183,38.71 183.4,30.63 183.8,26.09 184.2,25.5 184.6,31.46 185,38.5 185.4,44.62 185.8,50 186.2,54.65 186.6,58.78 187,62.57 187.4,65.62 187.8,68.96 188.2,71.74 188.6,73.88 189,75.95 189.4,77.8 189.8,79.56 190.2,80.71 190.6,81.94 191,83.33 191.4,84.45 191.8,85.45 192.2,85.68 192.6,86.03 193,86.85 193.4,87.15 193.8,86.81 194.2,87.58 194.6,87.87 195,88.35 195.4,88.85 195.8,89.14 196.2,89.25 196.6,90.02 197,89.39 197.4,89.56 197.8,89.7 198.2,89.95 198.6,90.36 199,90.26 199.4,90.14 199.8,90.27 200.2,90.23 200.6,90.64 201,90.64 201.4,90.29 201.8,90.36 202.2,90.15 202.6,90.61 203,91.07 203.4,90.49 203.8,90.4 204.2,90.01 204.6,89.92 205,89.96 205.4,90.04 205.8,89.51 206.2,89.72 206.6,89.59 207,89.67 207.4,90.15 207.8,90.06 208.2,89.91 208.6,89.85 209,89.72 209.4,89.64 209.8,89.94 210.2,89.62 210.6,89.88 211,89.9 211.4,89.82 211.8,89.83 212.2,89.92 212.6,90.1 213,90.24 213.4,90.63 213.8,90.71 214.2,91.33 214.6,91.35 215,91.45 215.4,91.6 215.8,91.94 216.2,91.46 216.6,91.2 217,91.26 217.4,91.24 217.8,91.47 218.2,91.54 218.6,90.86 219,90.79 219.4,91.15 219.8,90.54 220.2,90.37 220.6,90.09 221,89.37 221.4,89.29 221.8,87.93 222.2,85.4 222.6,82.03 223,76.39 223.4,68.37 223.8,59.1 224.2,48.71 224.6,38.77 225,30.61 225.4,26.09 225.8,25.5 226.2,31.4 226.6,38.46 227,44.5 227.4,49.64 227.8,54.38 228.2,58.35 228.6,61.91 229,65.15 229.4,67.93 229.8,70.41 230.2,72.7 230.6,74.73 231,77.03 231.4,78.89 231.8,80.57 232.2,81.42 232.6,82.42 233,83.97 233.4,85.02 233.8,85.7 234.2,85.81 234.6,86 235,86.85 235.4,87.61 235.8,87.71 236.2,87.67 236.6,87.92 237,88.63 237.4,88.63 237.8,88.78 238.2,89.24 238.6,89.23 239,89.53 239.4,89.19 239.8,89.01 240.2,88.96 240.6,89.44 241,89.57 241.4,89.9 241.8,90.55 242.2,91.01 242.6,90.96 243,91.52 243.4,91.22 243.8,91.41 244.2,91.53 244.6,91.02 245,91.29 245.4,91.61 245.8,91.79 246.2,92.08 246.6,91.58 247,91.67 247.4,92.24 247.8,92.05 248.2,92.08 248.6,92.08 249,91.72 249.4,92.01 249.8,91.28 250.2,90.81 250.6,90.61 251,89.94 251.4,89.58 251.8,89.79 252.2,89.7 252.6,89.85 253,90.39 253.4,90.56 253.8,90.86 254.2,91.13 254.6,91.07 255,90.99 255.4,91.13 255.8,91.18 256.2,91.16 256.6,91.48 257,91.57 257.4,91.94 257.8,91.48 258.2,91.69 258.6,91.45 259,91.11 259.4,90.84 259.8,90.21 260.2,89.51 260.6,89.83 261,89.36 261.4,88.91 261.8,89.43 262.2,89.42 262.6,89.52 263,89.54 263.4,88.43 263.8,86.89 264.2,83.4 264.6,77.61 265,69.51 265.4,59.91 265.8,49.16 266.2,38.78 266.6,30.63 267,26.09 267.4,25.5 267.8,31.3 268.2,38.21 268.6,44.28 269,49.66 269.4,54.41 269.8,58.72 270.2,62.46 270.6,65.98 271,68.81 271.4,71.17 271.8,73.81 272.2,75.55 272.6,77.21 273,78.9 273.4,80.05 273.8,80.98 274.2,82.01 274.6,82.46 275,82.95 275.4,84.05 275.8,84.42 276.2,85.48 276.6,86.59 277,86.87 277.4,88.06 277.8,89.08 278.2,88.81 278.6,89.53 279,89.36 279.4,89.34 279.8,90.33 280.2,89.85 280.6,89.62 281,90.51 281.4,90.46 281.8,90.6 282.2,91.13 282.6,91.07 283,91.46 283.4,91.16 283.8,90.93 284.2,90.75 284.6,90.55 285,89.77 285.4,89.54 285.8,89.15 286.2,89.46 286.6,89.52 287,89.54 287.4,89.61 287.8,90.1 288.2,90.01 288.6,90.61 289,90.7 289.4,91 289.8,91.45 290.2,91.87 290.6,91.58 291,91.31 291.4,91.42 291.8,91.65 292.2,91.32 292.6,90.79 293,90.39 293.4,90.79 293.8,91.19 294.2,90.92 294.6,90.79 295,90.91 295.4,90.76 295.8,90.74 296.2,91 296.6,91.32 297,91.57 297.4,91.04 297.8,90.43 298.2,90.5 298.6,90.66 299,90.34 299.4,89.62 299.8,89.32 300.2,89.35 300.6,89.37 301,89.73 301.4,89.85 301.8,89.85 302.2,90.09 302.6,90.03 303,90.13 303.4,90.3 303.8,90.23 304.2,90.17 304.6,89.03 305,87.55 305.4,85.57 305.8,82.18 306.2,76.88 306.6,68.84 307,59.16 307.4,48.77 307.8,38.78 308.2,30.6 308.6,26.09 309,25.5 309.4,31.35 309.8,38.37 310.2,44.68 310.6,50.21 311,55.09 311.4,59.25 311.8,62.57 312.2,66.16 312.6,68.8 313,70.95 313.4,72.96 313.8,74.96" fill="none" stroke="#d0ca0a" stroke-width="1.4" stroke-linejoin="round"/></g>
<clipPath id="ca"><rect x="54.3" y="19" width="260.2" height="191"/></clipPath>
<polyline clip-path="url(#ca)" points="54,199.55 54.5,192.59 55,174.99 55.5,157.17 56,144.85 56.5,133.78 57,125.18 57.4,121.2 57.5,122.05 58,131.67 58.5,153.36 59,162.11 59.5,168.44 60,171.74 60.5,174.73 61,177.53 61.5,180.77 62,183.88 62.5,187.23 63,191.23 63.5,194.21 64,196.56 64.5,196.89 65,197.98 65.5,199.45 66,200.85 66.5,201.12 67,203.58 67.5,205.95 68,205.13 68.5,206.68 69,207.13 69.5,207.1 70,205.91 70.5,207.07 71,206.59 71.5,207.3 72,207.3 72.5,207.3 73,206.87 73.5,205.93 74,204.46 74.5,202.98 75,202.99 75.5,203.42 76,203.13 76.5,204.08 77,204.57 77.5,204.58 78,204.97 78.5,205.82 79,205.18 79.5,205.43 80,206.14 80.5,204.78 81,205.66 81.5,205.14 82,205.62 82.5,205.87 83,205.8 83.5,205.46 84,206.08 84.5,205.77 85,204.28 85.5,204.33 86,203.24 86.5,204.29 87,203.61 87.5,204.95 88,206.53 88.5,207.3 89,206.8 89.5,207.08 90,206.67 90.5,206.39 91,204.9 91.5,205.62 92,206.41 92.5,207.01 93,205.69 93.5,207.19 94,206.01 94.5,205.2 95,203.13 95.5,201.36 96,196.25 96.5,185.72 97,168.92 97.5,152.92 98,141.95 98.5,131.33 99,125.37 99.2,123.5 99.5,123.5 99.6,123.5 100,123.5 100.5,127.57 101,152.86 101.5,161.38 102,169.71 102.5,172.93 103,175.63 103.5,178.43 104,181.84 104.5,184.38 105,187.36 105.5,190.46 106,193.27 106.5,196.85 107,196.9 107.5,198.28 108,200.3 108.5,201.75 109,202.39 109.5,204.95 110,206.16 110.5,206.28 111,206.45 111.5,206.13 112,204.9 112.5,205.28 113,204.4 113.5,205.02 114,206.03 114.5,207.29 115,207.3 115.5,207.3 116,207.3 116.5,207.3 117,206.72 117.5,205.49 118,205.41 118.5,204.79 119,204.16 119.5,205.08 120,206.27 120.5,206.67 121,207.3 121.5,207.23 122,205.62 122.5,204.39 123,204.67 123.5,205.33 124,205.37 124.5,206.62 125,207.3 125.5,207.3 126,207 126.5,207.3 127,206.95 127.5,206.83 128,206.09 128.5,205.77 129,205.79 129.5,206.37 130,205.64 130.5,206.83 131,207.12 131.5,206.78 132,205.57 132.5,206.02 133,204.78 133.5,204.82 134,204.61 134.5,206.05 135,206.23 135.5,207.2 136,206.62 136.5,206.95 137,206.81 137.5,205.36 138,201.07 138.5,197.47 139,184.9 139.5,166.79 140,150.01 140.5,138.56 141,127.1 141.5,120.67 141.7,118.6 142,121.24 142.5,142.12 143,155.86 143.5,165.05 144,169.93 144.5,173.92 145,177.14 145.5,179.28 146,182.59 146.5,185.6 147,188.81 147.5,191.64 148,195.62 148.5,197.79 149,199.31 149.5,200.83 150,201.6 150.5,201.98 151,202.41 151.5,203.44 152,203.08 152.5,204.47 153,205.52 153.5,205.03 154,204.79 154.5,204.81 155,203.68 155.5,202.79 156,203.28 156.5,202.76 157,202.7 157.5,202.67 158,203.26 158.5,203.38 159,204.14 159.5,204.85 160,205.22 160.5,206 161,205.32 161.5,204.95 162,204.39 162.5,204.7 163,203.29 163.5,204.78 164,204.72 164.5,204.29 165,204.65 165.5,204.62 166,204.1 166.5,204.04 167,205.02 167.5,205.63 168,206.93 168.5,206.7 169,207.3 169.5,207.3 170,206.61 170.5,205.4 171,205.71 171.5,205.27 172,205.83 172.5,206.9 173,207.3 173.5,207.3 174,207.3 174.5,206.18 175,204.64 175.5,204.56 176,205.03 176.5,203.69 177,204.81 177.5,206.21 178,205.87 178.5,205.54 179,205.7 179.5,205.09 180,203.89 180.5,200.75 181,197.11 181.5,187.85 182,169.08 182.5,150.09 183,138.45 183.5,126.54 184,118.57 184.3,115.4 184.5,117.2 185,133.23 185.5,151.9 186,161.22 186.5,167.28 187,170.76 187.5,173.74 188,176.66 188.5,179.64 189,183.18 189.5,187.55 190,190.06 190.5,193.57 191,196.15 191.5,197.86 192,199.26 192.5,201.12 193,201.97 193.5,202.81 194,203.96 194.5,203.81 195,204.68 195.5,205.27 196,206.37 196.5,205.82 197,206.63 197.5,205.75 198,206.26 198.5,205.65 199,205.52 199.5,204.79 200,205.11 200.5,204.7 201,204.99 201.5,204.68 202,205.42 202.5,205.94 203,205.06 203.5,204.68 204,204.85 204.5,205.16 205,205.69 205.5,206.6 206,206.17 206.5,206.75 207,205.88 207.5,205.32 208,205.61 208.5,206.71 209,206.18 209.5,207.05 210,206.71 210.5,206.14 211,206.54 211.5,206.02 212,204.92 212.5,205.72 213,205.14 213.5,205.11 214,206 214.5,206.24 215,205.27 215.5,206.55 216,206.68 216.5,205.7 217,205.78 217.5,206.25 218,205.74 218.5,204.7 219,204.72 219.5,204.91 220,205.38 220.5,204.62 221,204.44 221.5,205.63 222,206 222.5,205.73 223,204.81 223.5,203.12 224,199.11 224.5,192.5 225,174.99 225.5,157.43 226,145.02 226.5,133.73 227,125.14 227.4,121.2 227.5,122.05 228,131.73 228.5,153.55 229,162.51 229.5,169.52 230,172.14 230.5,175.32 231,178.45 231.5,181.09 232,183.56 232.5,186.54 233,188.93 233.5,191.96 234,194.55 234.5,194.97 235,197.17 235.5,199.57 236,201.7 236.5,202.79 237,204.43 237.5,204.8 238,204.76 238.5,204.28 239,205.92 239.5,205.99 240,205.53 240.5,205.7 241,205.09 241.5,204.54 242,204.78 242.5,206.31 243,206.05 243.5,206.89 244,206.24 244.5,206.32 245,205.14 245.5,205.49 246,205.31 246.5,205.08 247,204.51 247.5,204.72 248,204.69 248.5,204.09 249,205.13 249.5,205.88 250,205.37 250.5,205.24 251,205.09 251.5,204.03 252,203.92 252.5,204.2 253,204.57 253.5,205.27 254,205.62 254.5,205.99 255,205.61 255.5,205.34 256,204.58 256.5,204.27 257,204.55 257.5,205.71 258,204.81 258.5,204.93 259,206.4 259.5,205.88 260,206.13 260.5,205.98 261,206.89 261.5,205.79 262,205.02 262.5,204.15 263,204.99 263.5,204.5 264,204.56 264.5,204.38 265,204.04 265.5,201.24 266,197.88 266.5,188.72 267,172.45 267.5,155.21 268,144.41 268.5,133.59 269,126.42 269.3,123.5 269.5,123.5 269.7,123.5 270,123.5 270.1,123.5 270.5,126.74 271,150.79 271.5,158.66 272,167.44 272.5,171.11 273,175.23 273.5,177.84 274,181.1 274.5,183.84 275,187.05 275.5,189.66 276,193.44 276.5,195.96 277,196.45 277.5,197.01 278,198.22 278.5,199.38 279,201.73 279.5,202.67 280,203.79 280.5,203.97 281,203.77 281.5,202.91 282,203.26 282.5,203.71 283,203.27 283.5,204.64 284,204.78 284.5,206.04 285,206.41 285.5,207.3 286,206.75 286.5,207.3 287,206.31 287.5,206.28 288,205.59 288.5,205.95 289,205.57 289.5,205.65 290,204.81 290.5,204.34 291,203.54 291.5,202.38 292,202.8 292.5,204.18 293,204.79 293.5,204.94 294,205.63 294.5,205.42 295,204.99 295.5,205.62 296,205.36 296.5,204.95 297,205.65 297.5,206.02 298,205.89 298.5,206.37 299,207.3 299.5,206.49 300,204.92 300.5,205.16 301,205.12 301.5,203.46 302,204.43 302.5,206.09 303,205.62 303.5,205.51 304,205.6 304.5,204.75 305,204.59 305.5,204.54 306,205.58 306.5,205.51 307,205.82 307.5,202.62 308,199.1 308.5,193.51 309,182.04 309.5,165.31 310,149.77 310.5,138.84 311,128.14 311.5,122.16 311.7,120.2 312,122.71 312.5,142.68 313,156.11 313.5,165.46 314,169.14 314.5,172.72 315,175.31" fill="none" stroke="#187a3b" stroke-width="2.4" stroke-linejoin="round"/>
<rect x="53.4" y="19" width="261.7" height="192" fill="none" stroke="#000" stroke-width="2"/>
<line x1="49.5" y1="211" x2="53.4" y2="211" stroke="#000" stroke-width="1.8"/>
<text x="47.1" y="215.4" font-size="14.8" font-weight="bold" text-anchor="end" fill="#000">0.0</text>
<line x1="49.5" y1="163" x2="53.4" y2="163" stroke="#000" stroke-width="1.8"/>
<text x="47.1" y="167.4" font-size="14.8" font-weight="bold" text-anchor="end" fill="#000">0.5</text>
<line x1="49.5" y1="115" x2="53.4" y2="115" stroke="#000" stroke-width="1.8"/>
<text x="47.1" y="119.4" font-size="14.8" font-weight="bold" text-anchor="end" fill="#000">1.0</text>
<line x1="49.5" y1="67" x2="53.4" y2="67" stroke="#000" stroke-width="1.8"/>
<text x="47.1" y="71.4" font-size="14.8" font-weight="bold" text-anchor="end" fill="#000">1.5</text>
<line x1="49.5" y1="19" x2="53.4" y2="19" stroke="#000" stroke-width="1.8"/>
<text x="47.1" y="23.4" font-size="14.8" font-weight="bold" text-anchor="end" fill="#000">2.0</text>
<line x1="51.5" y1="187" x2="53.4" y2="187" stroke="#000" stroke-width="1.5"/>
<line x1="51.5" y1="139" x2="53.4" y2="139" stroke="#000" stroke-width="1.5"/>
<line x1="51.5" y1="91" x2="53.4" y2="91" stroke="#000" stroke-width="1.5"/>
<line x1="51.5" y1="43" x2="53.4" y2="43" stroke="#000" stroke-width="1.5"/>
<line x1="66" y1="211" x2="66" y2="215" stroke="#000" stroke-width="1.8"/>
<text x="66" y="228.6" font-size="14.5" font-weight="bold" text-anchor="middle" fill="#000">-40</text>
<line x1="125.1" y1="211" x2="125.1" y2="215" stroke="#000" stroke-width="1.8"/>
<text x="125.1" y="228.6" font-size="14.5" font-weight="bold" text-anchor="middle" fill="#000">-20</text>
<line x1="184.2" y1="211" x2="184.2" y2="215" stroke="#000" stroke-width="1.8"/>
<text x="184.2" y="228.6" font-size="14.5" font-weight="bold" text-anchor="middle" fill="#000">0</text>
<line x1="243.3" y1="211" x2="243.3" y2="215" stroke="#000" stroke-width="1.8"/>
<text x="243.3" y="228.6" font-size="14.5" font-weight="bold" text-anchor="middle" fill="#000">20</text>
<line x1="302.4" y1="211" x2="302.4" y2="215" stroke="#000" stroke-width="1.8"/>
<text x="302.4" y="228.6" font-size="14.5" font-weight="bold" text-anchor="middle" fill="#000">40</text>
<line x1="95.55" y1="211" x2="95.55" y2="214" stroke="#000" stroke-width="1.5"/>
<line x1="154.65" y1="211" x2="154.65" y2="214" stroke="#000" stroke-width="1.5"/>
<line x1="213.75" y1="211" x2="213.75" y2="214" stroke="#000" stroke-width="1.5"/>
<line x1="272.85" y1="211" x2="272.85" y2="214" stroke="#000" stroke-width="1.5"/>
<text x="186.3" y="247" font-size="20" font-weight="bold" text-anchor="middle" textLength="81.8" lengthAdjust="spacingAndGlyphs" fill="#000">Time(ns)</text>
<text x="18.8" y="112.7" font-size="20" font-weight="bold" text-anchor="middle" textLength="130.2" lengthAdjust="spacingAndGlyphs" fill="#000" transform="rotate(-90 18.8 112.7)">Intensity(a.u.)</text>
<text x="6.8" y="10.2" font-size="19" font-weight="bold" textLength="9.3" lengthAdjust="spacingAndGlyphs" fill="#000">a</text>
<text x="121.2" y="115.1" font-size="13" font-weight="bold" text-anchor="middle" textLength="44.8" lengthAdjust="spacingAndGlyphs" fill="#e3393e">14.29ns</text>
<g fill="#f0831f"><path d="M99.6,121.1 L108.4,117.8 L105.6,121.1 L108.4,124.4 Z"/><path d="M140.3,121.1 L131.5,117.8 L134.3,121.1 L131.5,124.4 Z"/></g>
<line x1="104" y1="121.1" x2="136" y2="121.1" stroke="#f0831f" stroke-width="2"/>
<polyline points="64.2,477.05 64.7,477.05 65.2,477.05 65.7,477.04 66.2,477.04 66.7,477.03 67.2,477.03 67.7,477.03 68.2,477.02 68.7,477.02 69.2,477.01 69.7,477.01 70.2,477.01 70.7,477 71.2,477 71.7,477 72.2,476.99 72.7,476.99 73.2,476.98 73.7,476.98 74.2,476.98 74.7,476.97 75.2,476.97 75.7,476.96 76.2,476.96 76.7,476.96 77.2,476.95 77.7,476.95 78.2,476.94 78.7,476.94 79.2,476.94 79.7,476.93 80.2,476.93 80.7,476.93 81.2,476.92 81.7,476.92 82.2,476.91 82.7,476.91 83.2,476.91 83.7,476.9 84.2,476.9 84.7,476.89 85.2,476.89 85.7,476.89 86.2,476.88 86.7,476.88 87.2,476.87 87.7,476.87 88.2,476.87 88.7,476.86 89.2,476.86 89.7,476.86 90.2,476.85 90.7,476.85 91.2,476.84 91.7,476.84 92.2,476.84 92.7,476.83 93.2,476.83 93.7,476.82 94.2,476.79 94.7,476.77 95.2,476.75 95.7,476.72 96.2,476.7 96.7,476.68 97.2,476.65 97.7,476.63 98.2,476.61 98.7,476.58 99.2,476.56 99.7,476.54 100.2,476.51 100.7,476.49 101.2,476.47 101.7,476.44 102.2,476.42 102.7,476.4 103.2,476.37 103.7,476.35 104.2,476.33 104.7,476.3 105.2,476.28 105.7,476.26 106.2,476.23 106.7,476.21 107.2,476.19 107.7,476.16 108.2,476.14 108.7,476.12 109.2,476.09 109.7,476.07 110.2,476.05 110.7,476.02 111.2,476 111.7,475.98 112.2,475.95 112.7,475.93 113.2,475.91 113.7,475.86 114.2,475.77 114.7,475.68 115.2,475.59 115.7,475.5 116.2,475.41 116.7,475.32 117.2,475.23 117.7,475.15 118.2,475.06 118.7,474.97 119.2,474.88 119.7,474.79 120.2,474.7 120.7,474.61 121.2,474.52 121.7,474.43 122.2,474.34 122.7,474.25 123.2,474.17 123.7,474.08 124.2,473.99 124.7,473.9 125.2,473.81 125.7,473.72 126.2,473.5 126.7,473.27 127.2,473.05 127.7,472.83 128.2,472.6 128.7,472.38 129.2,472.16 129.7,471.93 130.2,471.71 130.7,471.49 131.2,471.26 131.7,471.04 132.2,470.82 132.7,470.59 133.2,470.37 133.7,470.15 134.2,469.72 134.7,469.3 135.2,468.87 135.7,468.45 136.2,468.02 136.7,467.6 137.2,467.17 137.7,466.75 138.2,466.32 138.7,465.9 139.2,465.47 139.7,465.05 140.2,464.62 140.7,464.19 141.2,463.77 141.7,463.34 142.2,462.92 142.7,462.49 143.2,462.07 143.7,461.64 144.2,461.22 144.7,460.79 145.2,460.37 145.7,459.94 146.2,459.52 146.7,458.51 147.2,457.36 147.7,456.21 148.2,455.06 148.7,453.9 149.2,452.75 149.7,451.6 150.2,450.45 150.7,449.3 151.2,448.15 151.7,446.99 152.2,445.84 152.7,444.69 153.2,443.54 153.7,442.39 154.2,441.24 154.7,440.08 155.2,438.93 155.7,436.93 156.2,434.92 156.7,432.92 157.2,430.91 157.7,428.91 158.2,426.9 158.7,424.9 159.2,422.89 159.7,420.89 160.2,418.88 160.7,416.87 161.2,414.87 161.7,412.86 162.2,410.86 162.7,408.85 163.2,406.85 163.7,404.84 164.2,402.84 164.7,400.44 165.2,397.94 165.7,395.44 166.2,392.94 166.7,390.52 167.2,388.37 167.7,386.22 168.2,384.08 168.7,381.93 169.2,379.78 169.7,377.63 170.2,375.29 170.7,372.64 171.2,370 171.7,367.35 172.2,364.71 172.7,362.06 173.2,359.42 173.7,356.79 174.2,354.17 174.7,351.54 175.2,348.91 175.7,346.29 176.2,343.66 176.7,341.22 177.2,339.52 177.7,337.83 178.2,336.13 178.7,334.44 179.2,332.74 179.7,331.04 180.2,329.35 180.7,327.74 181.2,326.26 181.7,325.1 182.2,324.11 182.7,323.23 183.2,322.94 183.7,322.88 184.2,323.18 184.7,323.93 185.2,324.86 185.7,326.03 186.2,327.09 186.7,328.08 187.2,329.65 187.7,332.09 188.2,334.53 188.7,336.97 189.2,339.41 189.7,341.85 190.2,344.28 190.7,346.71 191.2,349.14 191.7,351.58 192.2,354.01 192.7,356.44 193.2,358.87 193.7,361.43 194.2,364.47 194.7,367.52 195.2,370.56 195.7,373.6 196.2,376.65 196.7,379.69 197.2,382.74 197.7,385.75 198.2,388.74 198.7,391.73 199.2,394.71 199.7,397.7 200.2,400.69 200.7,403.68 201.2,406.68 201.7,409.68 202.2,412.69 202.7,415.69 203.2,418.69 203.7,421.69 204.2,423.68 204.7,425.67 205.2,427.66 205.7,429.65 206.2,431.64 206.7,433.63 207.2,435.48 207.7,437.22 208.2,438.97 208.7,440.72 209.2,442.47 209.7,444.21 210.2,445.85 210.7,447.05 211.2,448.24 211.7,449.44 212.2,450.63 212.7,451.83 213.2,453.03 213.7,454.22 214.2,455.27 214.7,456.29 215.2,457.3 215.7,458.31 216.2,459.33 216.7,460.34 217.2,461.36 217.7,462.29 218.2,463.16 218.7,464.03 219.2,464.91 219.7,465.78 220.2,466.65 220.7,467.43 221.2,467.79 221.7,468.16 222.2,468.52 222.7,468.89 223.2,469.26 223.7,469.62 224.2,469.99 224.7,470.36 225.2,470.72 225.7,471.09 226.2,471.34 226.7,471.52 227.2,471.71 227.7,471.89 228.2,472.07 228.7,472.25 229.2,472.43 229.7,472.61 230.2,472.79 230.7,472.97 231.2,473.16 231.7,473.34 232.2,473.52 232.7,473.7 233.2,473.88 233.7,474.06 234.2,474.24 234.7,474.42 235.2,474.54 235.7,474.6 236.2,474.67 236.7,474.73 237.2,474.8 237.7,474.86 238.2,474.93 238.7,475 239.2,475.06 239.7,475.13 240.2,475.19 240.7,475.26 241.2,475.32 241.7,475.39 242.2,475.46 242.7,475.52 243.2,475.59 243.7,475.65 244.2,475.72 244.7,475.78 245.2,475.85 245.7,475.92 246.2,475.98 246.7,476.05 247.2,476.11 247.7,476.18 248.2,476.21 248.7,476.23 249.2,476.24 249.7,476.26 250.2,476.27 250.7,476.29 251.2,476.3 251.7,476.32 252.2,476.34 252.7,476.35 253.2,476.37 253.7,476.38 254.2,476.4 254.7,476.41 255.2,476.43 255.7,476.44 256.2,476.46 256.7,476.47 257.2,476.49 257.7,476.5 258.2,476.52 258.7,476.53 259.2,476.55 259.7,476.56 260.2,476.58 260.7,476.59 261.2,476.61 261.7,476.62 262.2,476.64 262.7,476.65 263.2,476.67 263.7,476.68 264.2,476.7 264.7,476.71 265.2,476.73 265.7,476.74 266.2,476.76 266.7,476.77 267.2,476.79 267.7,476.81 268.2,476.82 268.7,476.84 269.2,476.85 269.7,476.87 270.2,476.88 270.7,476.9 271.2,476.91 271.7,476.93 272.2,476.94 272.7,476.96 273.2,476.97 273.7,476.98 274.2,476.98 274.7,476.99 275.2,476.99 275.7,476.99 276.2,476.99 276.7,476.99 277.2,477 277.7,477 278.2,477 278.7,477 279.2,477 279.7,477.01 280.2,477.01 280.7,477.01 281.2,477.01 281.7,477.01 282.2,477.01 282.7,477.02 283.2,477.02 283.7,477.02 284.2,477.02 284.7,477.02 285.2,477.03 285.7,477.03 286.2,477.03 286.7,477.03 287.2,477.03 287.7,477.04 288.2,477.04 288.7,477.04 289.2,477.04 289.7,477.04 290.2,477.05" fill="none" stroke="#f08a24" stroke-width="2.6" stroke-linejoin="round"/>
<path d="M64.38,468.91v6.2M68.18,468.91v6.2M64.38,472.01h3.8M67.81,473.8v6.2M71.61,473.8v6.2M67.81,476.9h3.8M71.24,474.21v6.2M75.04,474.21v6.2M71.24,477.31h3.8M74.67,473.6v6.2M78.47,473.6v6.2M74.67,476.7h3.8M78.1,473.52v6.2M81.9,473.52v6.2M78.1,476.62h3.8M81.53,474.88v6.2M85.33,474.88v6.2M81.53,477.98h3.8M84.96,474.99v6.2M88.76,474.99v6.2M84.96,478.09h3.8M88.39,472.91v6.2M92.19,472.91v6.2M88.39,476.01h3.8M91.82,474.31v6.2M95.62,474.31v6.2M91.82,477.41h3.8M95.25,474.22v6.2M99.05,474.22v6.2M95.25,477.32h3.8M98.68,472.16v6.2M102.48,472.16v6.2M98.68,475.26h3.8M102.11,473.31v6.2M105.91,473.31v6.2M102.11,476.41h3.8M105.54,472.24v6.2M109.34,472.24v6.2M105.54,475.34h3.8M108.97,472.98v6.2M112.77,472.98v6.2M108.97,476.08h3.8M112.4,472.31v6.2M116.2,472.31v6.2M112.4,475.41h3.8M115.83,472.91v6.2M119.63,472.91v6.2M115.83,476.01h3.8M119.26,471.09v6.2M123.06,471.09v6.2M119.26,474.19h3.8M122.69,469.9v6.2M126.49,469.9v6.2M122.69,473h3.8M126.12,469.53v6.2M129.92,469.53v6.2M126.12,472.63h3.8M129.55,467.45v6.2M133.35,467.45v6.2M129.55,470.55h3.8M132.98,465.62v6.2M136.78,465.62v6.2M132.98,468.72h3.8M136.41,464.21v6.2M140.21,464.21v6.2M136.41,467.31h3.8M139.84,459.57v6.2M143.64,459.57v6.2M139.84,462.67h3.8M143.27,457.07v6.2M147.07,457.07v6.2M143.27,460.17h3.8M146.7,451.53v6.2M150.5,451.53v6.2M146.7,454.63h3.8M150.13,444.3v6.2M153.93,444.3v6.2M150.13,447.4h3.8M153.56,433.88v6.2M157.36,433.88v6.2M153.56,436.98h3.8M156.99,421.1v6.2M160.79,421.1v6.2M156.99,424.2h3.8M160.42,406.73v6.2M164.22,406.73v6.2M160.42,409.83h3.8M163.85,391.15v6.2M167.65,391.15v6.2M163.85,394.25h3.8M167.28,376.24v6.2M171.08,376.24v6.2M167.28,379.34h3.8M170.71,358.39v6.2M174.51,358.39v6.2M170.71,361.49h3.8M174.14,341.66v6.2M177.94,341.66v6.2M174.14,344.76h3.8M177.57,327.98v6.2M181.37,327.98v6.2M177.57,331.08h3.8M181,320.16v6.2M184.8,320.16v6.2M181,323.26h3.8M184.43,323.16v6.2M188.23,323.16v6.2M184.43,326.26h3.8M187.86,338.1v6.2M191.66,338.1v6.2M187.86,341.2h3.8M191.29,356.72v6.2M195.09,356.72v6.2M191.29,359.82h3.8M194.72,377.01v6.2M198.52,377.01v6.2M194.72,380.11h3.8M198.15,397.4v6.2M201.95,397.4v6.2M198.15,400.5h3.8M201.58,416.12v6.2M205.38,416.12v6.2M201.58,419.22h3.8M205.01,431.52v6.2M208.81,431.52v6.2M205.01,434.62h3.8M208.44,442.77v6.2M212.24,442.77v6.2M208.44,445.87h3.8M211.87,451.79v6.2M215.67,451.79v6.2M211.87,454.89h3.8M215.3,458.24v6.2M219.1,458.24v6.2M215.3,461.34h3.8M218.73,464.56v6.2M222.53,464.56v6.2M218.73,467.66h3.8M222.16,467.16v6.2M225.96,467.16v6.2M222.16,470.26h3.8M225.59,468.5v6.2M229.39,468.5v6.2M225.59,471.6h3.8M229.02,469.74v6.2M232.82,469.74v6.2M229.02,472.84h3.8M232.45,470.19v6.2M236.25,470.19v6.2M232.45,473.29h3.8M235.88,471.32v6.2M239.68,471.32v6.2M235.88,474.42h3.8M239.31,471.16v6.2M243.11,471.16v6.2M239.31,474.26h3.8M242.74,471.79v6.2M246.54,471.79v6.2M242.74,474.89h3.8M246.17,471.89v6.2M249.97,471.89v6.2M246.17,474.99h3.8M249.6,472.79v6.2M253.4,472.79v6.2M249.6,475.89h3.8M253.03,474.15v6.2M256.83,474.15v6.2M253.03,477.25h3.8M256.46,472.53v6.2M260.26,472.53v6.2M256.46,475.63h3.8M259.89,472.37v6.2M263.69,472.37v6.2M259.89,475.47h3.8M263.32,472.62v6.2M267.12,472.62v6.2M263.32,475.72h3.8M266.75,471.36v6.2M270.55,471.36v6.2M266.75,474.46h3.8M270.18,470.67v6.2M273.98,470.67v6.2M270.18,473.77h3.8M273.61,471.53v6.2M277.41,471.53v6.2M273.61,474.63h3.8M277.04,469.57v6.2M280.84,469.57v6.2M277.04,472.67h3.8M280.47,469.79v6.2M284.27,469.79v6.2M280.47,472.89h3.8M283.9,470.08v6.2M287.7,470.08v6.2M283.9,473.18h3.8" fill="none" stroke="#228a45" stroke-width="1.2"/>
<rect x="52.8" y="293.5" width="263" height="193.2" fill="none" stroke="#000" stroke-width="2"/>
<line x1="48.2" y1="479" x2="52.8" y2="479" stroke="#000" stroke-width="1.8"/>
<text x="46.3" y="483.6" font-size="14.8" font-weight="bold" text-anchor="end" fill="#000">0.0</text>
<line x1="48.2" y1="432.41" x2="52.8" y2="432.41" stroke="#000" stroke-width="1.8"/>
<text x="46.3" y="437.01" font-size="14.8" font-weight="bold" text-anchor="end" fill="#000">0.3</text>
<line x1="48.2" y1="385.82" x2="52.8" y2="385.82" stroke="#000" stroke-width="1.8"/>
<text x="46.3" y="390.42" font-size="14.8" font-weight="bold" text-anchor="end" fill="#000">0.6</text>
<line x1="48.2" y1="339.23" x2="52.8" y2="339.23" stroke="#000" stroke-width="1.8"/>
<text x="46.3" y="343.83" font-size="14.8" font-weight="bold" text-anchor="end" fill="#000">0.9</text>
<line x1="50.2" y1="455.7" x2="52.8" y2="455.7" stroke="#000" stroke-width="1.5"/>
<line x1="50.2" y1="409.12" x2="52.8" y2="409.12" stroke="#000" stroke-width="1.5"/>
<line x1="50.2" y1="362.52" x2="52.8" y2="362.52" stroke="#000" stroke-width="1.5"/>
<line x1="50.2" y1="315.93" x2="52.8" y2="315.93" stroke="#000" stroke-width="1.5"/>
<line x1="52.8" y1="486.7" x2="52.8" y2="490.8" stroke="#000" stroke-width="1.8"/>
<text x="52.8" y="504.4" font-size="14.8" font-weight="bold" text-anchor="middle" fill="#000">-1000</text>
<line x1="118.3" y1="486.7" x2="118.3" y2="490.8" stroke="#000" stroke-width="1.8"/>
<text x="118.3" y="504.4" font-size="14.8" font-weight="bold" text-anchor="middle" fill="#000">-500</text>
<line x1="183.8" y1="486.7" x2="183.8" y2="490.8" stroke="#000" stroke-width="1.8"/>
<text x="183.8" y="504.4" font-size="14.8" font-weight="bold" text-anchor="middle" fill="#000">0</text>
<line x1="249.3" y1="486.7" x2="249.3" y2="490.8" stroke="#000" stroke-width="1.8"/>
<text x="249.3" y="504.4" font-size="14.8" font-weight="bold" text-anchor="middle" fill="#000">500</text>
<line x1="314.8" y1="486.7" x2="314.8" y2="490.8" stroke="#000" stroke-width="1.8"/>
<text x="314.8" y="504.4" font-size="14.8" font-weight="bold" text-anchor="middle" fill="#000">1000</text>
<line x1="85.55" y1="486.7" x2="85.55" y2="489.6" stroke="#000" stroke-width="1.5"/>
<line x1="151.05" y1="486.7" x2="151.05" y2="489.6" stroke="#000" stroke-width="1.5"/>
<line x1="216.55" y1="486.7" x2="216.55" y2="489.6" stroke="#000" stroke-width="1.5"/>
<line x1="282.05" y1="486.7" x2="282.05" y2="489.6" stroke="#000" stroke-width="1.5"/>
<text x="186.4" y="525" font-size="20" font-weight="bold" text-anchor="middle" textLength="76.7" lengthAdjust="spacingAndGlyphs" fill="#000">Time(fs)</text>
<text x="14.9" y="392.5" font-size="20" font-weight="bold" text-anchor="middle" textLength="131" lengthAdjust="spacingAndGlyphs" fill="#000" transform="rotate(-90 14.9 392.5)">Intensity(a.u.)</text>
<text x="4.7" y="293.1" font-size="17" font-weight="bold" textLength="8.6" lengthAdjust="spacingAndGlyphs" fill="#000">c</text>
<circle cx="61.3" cy="302.8" r="2" fill="none" stroke="#2f9a52" stroke-width="0.9"/>
<text x="78.8" y="306.8" font-size="11.6" font-weight="bold" textLength="94.5" lengthAdjust="spacingAndGlyphs" fill="#000">Experiment Data</text>
<line x1="57" y1="319" x2="76.7" y2="319" stroke="#f08a24" stroke-width="2.6"/>
<text x="78.8" y="321.8" font-size="11.6" font-weight="bold" textLength="73" lengthAdjust="spacingAndGlyphs" fill="#000">Fitting Curve</text>
<line x1="133.2" y1="402.4" x2="158" y2="402.4" stroke="#e3393e" stroke-width="1.6"/>
<path d="M164.6,402.4 L156.5,399.3 L156.5,405.5 Z" fill="#e3393e"/>
<line x1="207" y1="402.4" x2="232.3" y2="402.4" stroke="#e3393e" stroke-width="1.6"/>
<path d="M200.4,402.4 L208.5,399.3 L208.5,405.5 Z" fill="#e3393e"/>
<text x="238.7" y="406.8" font-size="15" font-weight="bold" textLength="52.9" lengthAdjust="spacingAndGlyphs" fill="#000">147.7 fs</text>
<polyline points="413,468.56 413.6,466.4 414.2,465.01 414.8,470.45 415.4,469.59 416,466.05 416.6,469.46 417.2,470.46 417.8,467.56 418.4,468.58 419,469.38 419.6,468.25 420.2,466.15 420.8,469.33 421.4,468.5 422,467.29 422.6,467.09 423.2,466.52 423.8,474.47 424.4,467.06 425,470 425.6,468.43 426.2,465.58 426.8,471.39 427.4,470.05 428,467.29 428.6,466.56 429.2,469.68 429.8,472.02 430.4,466.78 431,469.64 431.6,470.76 432.2,473.85 432.8,467.55 433.4,465.71 434,469.34 434.6,470.9 435.2,468.53 435.8,469.48 436.4,468.54 437,471.43 437.6,466.66 438.2,466.99 438.8,467.32 439.4,472.34 440,471.02 440.6,470.95 441.2,471.12 441.8,467.89 442.4,468.19 443,471.24 443.6,470.76 444.2,471.79 444.8,466.91 445.4,466.49 446,471.66 446.6,466.64 447.2,466.67 447.8,469.29 448.4,468.29 449,469.39 449.6,466.59 450.2,469.84 450.8,469.07 451.4,470.91 452,472.18 452.6,471.38 453.2,472.26 453.8,465.08 454.4,469.66 455,471.19 455.6,466.61 456.2,468.35 456.8,468.34 457.4,468.96 458,469.46 458.6,466.31 459.2,471.1 459.8,469.93 460.4,472.15 461,470.98 461.6,468.47 462.2,470.58 462.8,470.97 463.4,469.72 464,466.58 464.6,467.87 465.2,467.28 465.8,470.37 466.4,468.86 467,471.25 467.6,467.09 468.2,469.55 468.8,466.65 469.4,468.56 470,466.16 470.6,467.56 471.2,465.81 471.8,469.15 472.4,472.55 473,467.71 473.6,467.31 474.2,466.96 474.8,466.35 475.4,471.57 476,469.21 476.6,469.24 477.2,468.62 477.8,468.92 478.4,468.98 479,466.83 479.6,462.94 480.2,456.41 480.8,458.47 481.4,458.73 482,455.44 482.6,453.78 482.7,318 483.2,453.67 483.8,454.25 483.9,318 484.4,455.38 485,459.08 485.6,458.79 486.2,458.36 486.8,462.26 487.4,465.05 488,467.65 488.6,468.26 489.2,470.2 489.8,468.39 490.4,469.46 491,471.05 491.6,470.26 492.2,466.68 492.8,466 493.4,466.61 494,471.06 494.6,471.04 495.2,472.59 495.8,468.1 496.4,468.43 497,468.27 497.6,467.34 498.2,471.56 498.8,467.06 499.4,466 500,471.23 500.6,472.81 501.2,469.1 501.8,469.33 502.4,467.97 503,470.98 503.6,470.78 504.2,469.79 504.8,473.53 505.4,470.48 506,471.63 506.6,469.82 507.2,472.07 507.8,467.26 508.4,466.32 509,468.07 509.6,468.63 510.2,472.11 510.8,471.94 511.4,467.84 512,469.98 512.6,468.41 513.2,469.37 513.8,474.85 514.4,473.43 515,467.97 515.6,470.01 516.2,472.15 516.8,468.14 517.4,466.53 518,470.96 518.6,469.59 519.2,473.32 519.8,471.74 520.4,473.22 521,472.51 521.6,470.68 522.2,467.19 522.8,467.02 523.4,470.92 524,471.37 524.6,470.49 525.2,468.65 525.8,471.5 526.4,470.7 527,471.81 527.6,470.31 528.2,467.6 528.8,467.55 529.4,467.91 530,466.43 530.6,468.67 531.2,472.66 531.8,471.18 532.4,471.6 533,473.6 533.6,469.17 534.2,472.42 534.8,469.81 535.4,472.75 536,470.26 536.6,468.14 537.2,467.48 537.8,469.04 538.4,467.95 539,471.13 539.6,469.89 540.2,470.47 540.8,468.97 541.4,473.05 542,476.31 542.6,472.06 543.2,469.19 543.8,467.21 544.4,468.94 545,467.93 545.6,471.67 546.2,472.33 546.8,468.74 547.4,470.5 548,470.21 548.6,468.66 549.2,470.07 549.8,467.1 550.4,466.99 551,470.78 551.6,473.56 552.2,471.35 552.8,472.98 553.4,469 554,468.67 554.6,471.99 555.2,473.78 555.8,471.32 556.4,467.81 557,471.16 557.6,467.93 558.2,472.05 558.8,472.79 559.4,474 560,474.56 560.6,470.96 561.2,468.14 561.8,471.24 562.4,471.25 563,471.16 563.6,471.06 564.2,472.91 564.8,472.68 565.4,474.03 566,470.29 566.6,471.77 567.2,472.23 567.8,468.29 568.4,472.81 569,468.52 569.6,472.41 570.2,467.37 570.8,469.5 571.4,467.71 572,471.69 572.6,468.11 573.2,471.08 573.8,467.58 574.4,471.69 575,468.79 575.6,468.69 576.2,467.73 576.8,467.74 577.4,468.4 578,471.4 578.6,468.91 579.2,468.29 579.8,458.4 580.4,458.4 581,469.1 581.6,471.9 582.2,471.73 582.8,470.71 583.4,468.2 584,469.45 584.6,469.36 585.2,472.42 585.8,471.5 586.4,472.33 587,471.16 587.6,471.19 588.2,467.72 588.8,471.25 589.4,470.09 590,468.75 590.6,469.71 591.2,467.5 591.8,468.78 592.4,471.98 593,470.63 593.6,469.4 594.2,467.76 594.8,467.57 595.4,467.75 596,466.93 596.6,467.32 597.2,468.61 597.8,468.6 598.4,470.74 599,471.93 599.6,473.37 600.2,472.71 600.8,472.98 601.4,469.48 602,471.96 602.6,468.13 603.2,471.46 603.8,473.32 604.4,473.9 605,468.97 605.6,472.46 606.2,471.47 606.8,468.43 607.4,470.13 608,472.23 608.6,471.95 609.2,473.91 609.8,473.52 610.4,468.83 611,467.79 611.6,473.01 612.2,471.05 612.8,471.61 613.4,472.59 614,468.72 614.6,468.21 615.2,471.62 615.8,470.08 616.4,470.54 617,469.04 617.6,470.26 618.2,469.05 618.8,470.46 619.4,472.58 620,472.34 620.6,469.12 621.2,467.9 621.8,472.53 622.4,470.09 623,473.83 623.6,470.05 624.2,473.08 624.8,470.5 625.4,465.61 626,473.06 626.6,473.59 627.2,473.9 627.8,473.32 628.4,468.67 629,472.32 629.6,469.97 630.2,472.76 630.8,468.61 631.4,475.66 632,468.98 632.6,470.23 633.2,471.17 633.8,468.19 634.4,468.35 635,472.24 635.6,470.66 636.2,472.71 636.8,474.63 637.4,471.17 638,468.2 638.6,468.15 639.2,469.65 639.8,471.84 640.4,471.42 641,474.19 641.6,471.28 642.2,474.59 642.8,474.68 643.4,470.9 644,470.09 644.6,474.01 645.2,472.15 645.8,472.23 646.4,465.96 647,469.98 647.6,468.54 648.2,471.28 648.8,472.62 649.4,472.41 650,474.48 650.6,469.83 651.2,467.96 651.8,473.66 652.4,473.77 653,473.13 653.6,474.93 654.2,473.39 654.8,473.44 655.4,470.29 656,469.85 656.6,467.95 657.2,471.69 657.8,468.42 658.4,468.68 659,474.46 659.6,472.4 660.2,474.92 660.8,471.72 661.4,473.9 662,469.08 662.6,471.56 663.2,471.53 663.8,473.55 664.4,465.36 665,471.4 665.6,473.2 666.2,470.57 666.8,474.24 667.4,473.79 668,470.12 668.6,468.66 669.2,473.65 669.8,472.22 670.4,468.8 671,473.89 671.6,470.7 672.2,470.78" fill="none" stroke="#48a637" stroke-width="2" stroke-linejoin="round"/>
<rect x="482.3" y="317" width="1.8" height="140" fill="#48a637"/>
<line x1="448" y1="317" x2="472" y2="317" stroke="#f0831f" stroke-width="1.8"/>
<line x1="448" y1="453.3" x2="470.5" y2="453.3" stroke="#f0831f" stroke-width="1.8"/>
<line x1="460.6" y1="325" x2="460.6" y2="446" stroke="#f0831f" stroke-width="1.6"/>
<path d="M460.6,318.5 L457.3,327.3 L460.6,325 L463.9,327.3 Z" fill="#f0831f"/>
<path d="M460.6,452.5 L457.3,443.7 L460.6,446 L463.9,443.7 Z" fill="#f0831f"/>
<path d="M443.6,312.6 C445.2,314.2 447.2,312.9 447.9,309.2 L449.6,302.6 C450.3,300.2 452.2,299.5 454.2,300.6 M446.9,304.4 H451.6" fill="none" stroke="#e3393e" stroke-width="1.15" stroke-linecap="round"/>
<text x="451.6" y="310.1" font-size="12" font-weight="bold" textLength="65.5" lengthAdjust="spacingAndGlyphs" fill="#e3393e">=69.93 MHz</text>
<text x="425.2" y="391.2" font-size="12" font-weight="bold" textLength="30.5" lengthAdjust="spacingAndGlyphs" fill="#e3393e">91 dB</text>
<text x="524.8" y="456.5" font-size="10" font-weight="bold" textLength="110.2" lengthAdjust="spacingAndGlyphs" fill="#000">RBW=10Hz Span=100kHz</text>
<polyline points="538.5,395.69 539.1,395.78 539.7,395.99 540.3,396.22 540.9,396.66 541.5,396.68 542.1,396.79 542.7,396.88 543.3,397.2 543.9,397.52 544.5,397.69 545.1,397.86 545.7,398.06 546.3,398.59 546.9,398.48 547.5,398.01 548.1,397.91 548.7,397.72 549.3,397.94 549.9,398.12 550.5,398.4 551.1,398.58 551.7,398.72 552.3,398.82 552.9,398.7 553.5,398.09 554.1,397.72 554.7,397.94 555.3,398.07 555.9,398.18 556.5,398.12 557.1,398.47 557.7,398.4 558.3,397.97 558.9,397.59 559.5,397.7 560.1,397.47 560.7,397.68 561.3,397.7 561.9,397.99 562.5,397.74 563.1,397.59 563.7,397.32 564.3,397.84 564.9,398.31 565.5,398.71 566.1,398.15 566.7,397.7 567.3,397.37 567.9,397.52 568.5,397.45 569.1,397.56 569.7,397.48 570.3,397.58 570.9,397.86 571.5,398.05 572.1,398.26 572.7,398.04 573.3,398.1 573.9,398.34 574.5,398.3 575.1,397.95 575.7,397.72 576.3,397.77 576.9,398.31 577.5,398.03 578.1,398.4 578.7,397.83 579.3,398.15 579.9,397.83 580.5,398.05 581.1,398.31 581.7,398.5 582.3,398.39 582.9,398.1 583.5,398.03 584.1,397.93 584.7,397.63 585.3,397.62 585.9,398.14 586.5,398.42 587.1,398.29 587.7,398.12 588.3,397.97 588.9,398.31 589.5,398.65 590.1,398.81 590.7,398.17 591.3,397.75 591.9,397.99 592.5,398.22 593.1,398 593.7,397.54 594.3,397.83 594.9,398.21 595.5,398.29 596.1,398.22 596.7,398.33 597.3,398.84 597.9,398.99 598.5,398.75 599.1,398.63 599.7,398.7 600.3,397.82 600.9,397.78 601.5,397.53 602.1,397.26 602.7,397.33 603.3,396.86 603.9,396.42 604.5,395.36 605.1,394.36 605.7,393.42 606.3,393.09 606.9,393.05 607.5,393.59 608.1,393.9 608.7,394.78 609.3,395.28 609.9,396.43 610.5,396.9 611.1,397.58 611.7,397.63 612.3,397.56 612.9,397.14 613.5,397.09 614.1,396.89 614.7,397.57 615.3,397.48 615.9,397.28 616.5,396.62 617.1,396.03 617.7,396.51 618.3,397.07 618.9,397.22 619.5,396.73 620.1,396.41 620.7,396.83 621.3,397.3 621.9,397.68 622.5,397.8 623.1,397.81 623.7,397.79 624.3,397.08 624.9,396.52 625.5,396.54 626.1,396.99 626.7,397.23 627.3,396.68 627.9,396.47 628.5,396.48 629.1,396.75 629.7,396.84 630.3,396.74 630.9,396.43 631.5,396.24 632.1,396.19 632.7,396.2 633.3,396.36 633.9,396.36 634.5,396.88 635.1,396.98 635.7,397.23 636.3,397.11 636.9,396.88 637.5,396.55 638.1,396.13 638.7,396.21 639.3,396.46 639.9,396.59 640.5,396.57 641.1,396.92 641.7,396.74 642.3,396.84 642.9,396.51 643.5,396.71 644.1,396.92 644.7,396.8 645.3,396.62 645.9,396.2 646.5,396.76 647.1,396.99 647.7,396.96 648.3,396.95 648.9,397.17 649.5,397.8 650.1,397.32 650.7,397.45 651.3,396.76 651.9,396.69 652.5,396.68 653.1,397.04 653.7,397.45 654.3,397.14 654.9,397.41 655.5,396.88 656.1,397.06 656.7,396.54 657.3,396.64 657.9,396.83 658.5,397.01 659.1,397.47 659.7,397.02 660.3,397.24 660.9,397.32 661.5,397.57 662.1,397.2 662.7,397.02 663.3,397.26" fill="none" stroke="#e6a524" stroke-width="2" stroke-linejoin="round"/>
<path d="M546.5,304.3V398M555.31,306.4V398M564.12,310.3V398M572.93,314V398M581.74,318V398M590.55,319.3V398M599.36,320.9V398M608.17,322.8V398M616.98,324.1V398M625.79,327.8V398M634.6,328.8V398M643.41,330.2V398M652.22,332V398M661.03,334.1V398" fill="none" stroke="#e6a524" stroke-width="2"/>
<line x1="539" y1="301.5" x2="539" y2="396" stroke="#e6a524" stroke-width="1.3"/>
<rect x="537.9" y="301.2" width="126.1" height="104.3" fill="none" stroke="#000" stroke-width="1.3"/>
<line x1="535.3" y1="308.2" x2="537.9" y2="308.2" stroke="#000" stroke-width="1.2"/>
<text x="534.3" y="311.1" font-size="8" font-weight="bold" text-anchor="end" fill="#000">-50</text>
<line x1="535.3" y1="340.6" x2="537.9" y2="340.6" stroke="#000" stroke-width="1.2"/>
<text x="534.3" y="343.5" font-size="8" font-weight="bold" text-anchor="end" fill="#000">-75</text>
<line x1="535.3" y1="373" x2="537.9" y2="373" stroke="#000" stroke-width="1.2"/>
<text x="534.3" y="375.9" font-size="8" font-weight="bold" text-anchor="end" fill="#000">-100</text>
<line x1="535.3" y1="405.4" x2="537.9" y2="405.4" stroke="#000" stroke-width="1.2"/>
<text x="534.3" y="408.3" font-size="8" font-weight="bold" text-anchor="end" fill="#000">-125</text>
<line x1="536.3" y1="324.4" x2="537.9" y2="324.4" stroke="#000" stroke-width="1"/>
<line x1="536.3" y1="356.8" x2="537.9" y2="356.8" stroke="#000" stroke-width="1"/>
<line x1="536.3" y1="389.2" x2="537.9" y2="389.2" stroke="#000" stroke-width="1"/>
<line x1="537.9" y1="405.5" x2="537.9" y2="408" stroke="#000" stroke-width="1.2"/>
<text x="538.4" y="414.3" font-size="8" font-weight="bold" text-anchor="middle" fill="#000">0</text>
<line x1="568.95" y1="405.5" x2="568.95" y2="408" stroke="#000" stroke-width="1.2"/>
<text x="569.45" y="414.3" font-size="8" font-weight="bold" text-anchor="middle" fill="#000">250</text>
<line x1="600" y1="405.5" x2="600" y2="408" stroke="#000" stroke-width="1.2"/>
<text x="600.5" y="414.3" font-size="8" font-weight="bold" text-anchor="middle" fill="#000">500</text>
<line x1="631.05" y1="405.5" x2="631.05" y2="408" stroke="#000" stroke-width="1.2"/>
<text x="631.55" y="414.3" font-size="8" font-weight="bold" text-anchor="middle" fill="#000">750</text>
<line x1="662.1" y1="405.5" x2="662.1" y2="408" stroke="#000" stroke-width="1.2"/>
<text x="662.6" y="414.3" font-size="8" font-weight="bold" text-anchor="middle" fill="#000">1000</text>
<line x1="553.42" y1="405.5" x2="553.42" y2="407.2" stroke="#000" stroke-width="1"/>
<line x1="584.48" y1="405.5" x2="584.48" y2="407.2" stroke="#000" stroke-width="1"/>
<line x1="615.52" y1="405.5" x2="615.52" y2="407.2" stroke="#000" stroke-width="1"/>
<line x1="646.57" y1="405.5" x2="646.57" y2="407.2" stroke="#000" stroke-width="1"/>
<text x="605" y="426.5" font-size="9" font-weight="bold" text-anchor="middle" textLength="70.5" lengthAdjust="spacingAndGlyphs" fill="#000">Frequency(MHz)</text>
<text x="518.5" y="350.7" font-size="9" font-weight="bold" text-anchor="middle" textLength="67.4" lengthAdjust="spacingAndGlyphs" fill="#000" transform="rotate(-90 518.5 350.7)">RF Power(dBm)</text>
<rect x="411.8" y="293" width="261.4" height="192.8" fill="none" stroke="#000" stroke-width="2"/>
<line x1="407.5" y1="323.2" x2="411.9" y2="323.2" stroke="#000" stroke-width="1.8"/>
<text x="406.6" y="328.2" font-size="14" font-weight="bold" text-anchor="end" textLength="21.6" lengthAdjust="spacingAndGlyphs" fill="#000">-40</text>
<line x1="407.5" y1="383.2" x2="411.9" y2="383.2" stroke="#000" stroke-width="1.8"/>
<text x="406.6" y="388.2" font-size="14" font-weight="bold" text-anchor="end" textLength="21.6" lengthAdjust="spacingAndGlyphs" fill="#000">-80</text>
<line x1="407.5" y1="443.2" x2="411.9" y2="443.2" stroke="#000" stroke-width="1.8"/>
<text x="406.6" y="448.2" font-size="14" font-weight="bold" text-anchor="end" textLength="31.4" lengthAdjust="spacingAndGlyphs" fill="#000">-120</text>
<line x1="409.3" y1="293.2" x2="411.9" y2="293.2" stroke="#000" stroke-width="1.5"/>
<line x1="409.3" y1="353.2" x2="411.9" y2="353.2" stroke="#000" stroke-width="1.5"/>
<line x1="409.3" y1="413.2" x2="411.9" y2="413.2" stroke="#000" stroke-width="1.5"/>
<line x1="409.3" y1="473.2" x2="411.9" y2="473.2" stroke="#000" stroke-width="1.5"/>
<line x1="411.9" y1="485.8" x2="411.9" y2="490.3" stroke="#000" stroke-width="1.8"/>
<text x="411.9" y="502.7" font-size="14" font-weight="bold" text-anchor="middle" textLength="35.5" lengthAdjust="spacingAndGlyphs" fill="#000">69.92</text>
<line x1="507.1" y1="485.8" x2="507.1" y2="490.3" stroke="#000" stroke-width="1.8"/>
<text x="507.1" y="502.7" font-size="14" font-weight="bold" text-anchor="middle" textLength="35.5" lengthAdjust="spacingAndGlyphs" fill="#000">69.94</text>
<line x1="602.3" y1="485.8" x2="602.3" y2="490.3" stroke="#000" stroke-width="1.8"/>
<text x="602.3" y="502.7" font-size="14" font-weight="bold" text-anchor="middle" textLength="35.5" lengthAdjust="spacingAndGlyphs" fill="#000">69.96</text>
<line x1="459.5" y1="485.8" x2="459.5" y2="488.8" stroke="#000" stroke-width="1.5"/>
<line x1="554.7" y1="485.8" x2="554.7" y2="488.8" stroke="#000" stroke-width="1.5"/>
<line x1="649.9" y1="485.8" x2="649.9" y2="488.8" stroke="#000" stroke-width="1.5"/>
<text x="535.2" y="523.2" font-size="20" font-weight="bold" text-anchor="middle" textLength="141.4" lengthAdjust="spacingAndGlyphs" fill="#000">Frequency(MHz)</text>
<text x="371.5" y="386" font-size="20" font-weight="bold" text-anchor="middle" textLength="132.5" lengthAdjust="spacingAndGlyphs" fill="#000" transform="rotate(-90 371.5 386)">RF Power(dBm)</text>
<text x="360.5" y="293.3" font-size="15.5" font-weight="bold" textLength="9.2" lengthAdjust="spacingAndGlyphs" fill="#000">d</text>
<g><line x1="488.73" y1="117.6" x2="488.73" y2="12.93" stroke="#f2f2f2" stroke-width="0.8"/><line x1="497.24" y1="117.6" x2="497.24" y2="12.93" stroke="#f2f2f2" stroke-width="0.8"/><line x1="505.74" y1="117.6" x2="505.74" y2="12.93" stroke="#f2f2f2" stroke-width="0.8"/><line x1="514.24" y1="117.6" x2="514.24" y2="12.93" stroke="#f2f2f2" stroke-width="0.8"/><line x1="531.25" y1="117.6" x2="531.25" y2="12.93" stroke="#f2f2f2" stroke-width="0.8"/><line x1="539.75" y1="117.6" x2="539.75" y2="12.93" stroke="#f2f2f2" stroke-width="0.8"/><line x1="548.25" y1="117.6" x2="548.25" y2="12.93" stroke="#f2f2f2" stroke-width="0.8"/><line x1="556.76" y1="117.6" x2="556.76" y2="12.93" stroke="#f2f2f2" stroke-width="0.8"/><line x1="573.76" y1="117.6" x2="573.76" y2="12.93" stroke="#f2f2f2" stroke-width="0.8"/><line x1="582.27" y1="117.6" x2="582.27" y2="12.93" stroke="#f2f2f2" stroke-width="0.8"/><line x1="590.77" y1="117.6" x2="590.77" y2="12.93" stroke="#f2f2f2" stroke-width="0.8"/><line x1="599.27" y1="117.6" x2="599.27" y2="12.93" stroke="#f2f2f2" stroke-width="0.8"/><line x1="616.28" y1="117.6" x2="616.28" y2="12.93" stroke="#f2f2f2" stroke-width="0.8"/><line x1="624.78" y1="117.6" x2="624.78" y2="12.93" stroke="#f2f2f2" stroke-width="0.8"/><line x1="633.28" y1="117.6" x2="633.28" y2="12.93" stroke="#f2f2f2" stroke-width="0.8"/><line x1="641.79" y1="117.6" x2="641.79" y2="12.93" stroke="#f2f2f2" stroke-width="0.8"/><line x1="658.79" y1="117.6" x2="658.79" y2="12.93" stroke="#f2f2f2" stroke-width="0.8"/><line x1="472.5" y1="116.39" x2="664.98" y2="116.39" stroke="#f2f2f2" stroke-width="0.8"/><line x1="472.5" y1="110.93" x2="664.98" y2="110.93" stroke="#f2f2f2" stroke-width="0.8"/><line x1="472.5" y1="100" x2="664.98" y2="100" stroke="#f2f2f2" stroke-width="0.8"/><line x1="472.5" y1="94.54" x2="664.98" y2="94.54" stroke="#f2f2f2" stroke-width="0.8"/><line x1="472.5" y1="89.08" x2="664.98" y2="89.08" stroke="#f2f2f2" stroke-width="0.8"/><line x1="472.5" y1="83.62" x2="664.98" y2="83.62" stroke="#f2f2f2" stroke-width="0.8"/><line x1="472.5" y1="72.7" x2="664.98" y2="72.7" stroke="#f2f2f2" stroke-width="0.8"/><line x1="472.5" y1="67.24" x2="664.98" y2="67.24" stroke="#f2f2f2" stroke-width="0.8"/><line x1="472.5" y1="61.77" x2="664.98" y2="61.77" stroke="#f2f2f2" stroke-width="0.8"/><line x1="472.5" y1="56.31" x2="664.98" y2="56.31" stroke="#f2f2f2" stroke-width="0.8"/><line x1="472.5" y1="45.39" x2="664.98" y2="45.39" stroke="#f2f2f2" stroke-width="0.8"/><line x1="472.5" y1="39.93" x2="664.98" y2="39.93" stroke="#f2f2f2" stroke-width="0.8"/><line x1="472.5" y1="34.47" x2="664.98" y2="34.47" stroke="#f2f2f2" stroke-width="0.8"/><line x1="472.5" y1="29.01" x2="664.98" y2="29.01" stroke="#f2f2f2" stroke-width="0.8"/><line x1="472.5" y1="18.08" x2="664.98" y2="18.08" stroke="#f2f2f2" stroke-width="0.8"/><line x1="410.5" y1="210.39" x2="472.5" y2="116.39" stroke="#f1f1f1" stroke-width="0.7"/><line x1="410.5" y1="204.93" x2="472.5" y2="110.93" stroke="#f1f1f1" stroke-width="0.7"/><line x1="410.5" y1="194" x2="472.5" y2="100" stroke="#f1f1f1" stroke-width="0.7"/><line x1="410.5" y1="188.54" x2="472.5" y2="94.54" stroke="#f1f1f1" stroke-width="0.7"/><line x1="410.5" y1="183.08" x2="472.5" y2="89.08" stroke="#f1f1f1" stroke-width="0.7"/><line x1="410.5" y1="177.62" x2="472.5" y2="83.62" stroke="#f1f1f1" stroke-width="0.7"/><line x1="410.5" y1="166.7" x2="472.5" y2="72.7" stroke="#f1f1f1" stroke-width="0.7"/><line x1="410.5" y1="161.24" x2="472.5" y2="67.24" stroke="#f1f1f1" stroke-width="0.7"/><line x1="410.5" y1="155.77" x2="472.5" y2="61.77" stroke="#f1f1f1" stroke-width="0.7"/><line x1="410.5" y1="150.31" x2="472.5" y2="56.31" stroke="#f1f1f1" stroke-width="0.7"/><line x1="410.5" y1="139.39" x2="472.5" y2="45.39" stroke="#f1f1f1" stroke-width="0.7"/><line x1="410.5" y1="133.93" x2="472.5" y2="39.93" stroke="#f1f1f1" stroke-width="0.7"/><line x1="410.5" y1="128.47" x2="472.5" y2="34.47" stroke="#f1f1f1" stroke-width="0.7"/><line x1="410.5" y1="123.01" x2="472.5" y2="29.01" stroke="#f1f1f1" stroke-width="0.7"/><line x1="410.5" y1="112.08" x2="472.5" y2="18.08" stroke="#f1f1f1" stroke-width="0.7"/><line x1="418.26" y1="211.6" x2="480.23" y2="117.6" stroke="#d6d6d6" stroke-width="0.7"/><line x1="426.8" y1="211.6" x2="488.73" y2="117.6" stroke="#eeeeee" stroke-width="0.7"/><line x1="435.33" y1="211.6" x2="497.24" y2="117.6" stroke="#eeeeee" stroke-width="0.7"/><line x1="443.87" y1="211.6" x2="505.74" y2="117.6" stroke="#eeeeee" stroke-width="0.7"/><line x1="452.4" y1="211.6" x2="514.24" y2="117.6" stroke="#eeeeee" stroke-width="0.7"/><line x1="460.94" y1="211.6" x2="522.75" y2="117.6" stroke="#d6d6d6" stroke-width="0.7"/><line x1="469.48" y1="211.6" x2="531.25" y2="117.6" stroke="#eeeeee" stroke-width="0.7"/><line x1="478.01" y1="211.6" x2="539.75" y2="117.6" stroke="#eeeeee" stroke-width="0.7"/><line x1="486.55" y1="211.6" x2="548.25" y2="117.6" stroke="#eeeeee" stroke-width="0.7"/><line x1="495.08" y1="211.6" x2="556.76" y2="117.6" stroke="#eeeeee" stroke-width="0.7"/><line x1="503.62" y1="211.6" x2="565.26" y2="117.6" stroke="#d6d6d6" stroke-width="0.7"/><line x1="512.16" y1="211.6" x2="573.76" y2="117.6" stroke="#eeeeee" stroke-width="0.7"/><line x1="520.69" y1="211.6" x2="582.27" y2="117.6" stroke="#eeeeee" stroke-width="0.7"/><line x1="529.23" y1="211.6" x2="590.77" y2="117.6" stroke="#eeeeee" stroke-width="0.7"/><line x1="537.76" y1="211.6" x2="599.27" y2="117.6" stroke="#eeeeee" stroke-width="0.7"/><line x1="546.3" y1="211.6" x2="607.77" y2="117.6" stroke="#d6d6d6" stroke-width="0.7"/><line x1="554.84" y1="211.6" x2="616.28" y2="117.6" stroke="#eeeeee" stroke-width="0.7"/><line x1="563.37" y1="211.6" x2="624.78" y2="117.6" stroke="#eeeeee" stroke-width="0.7"/><line x1="571.91" y1="211.6" x2="633.28" y2="117.6" stroke="#eeeeee" stroke-width="0.7"/><line x1="580.44" y1="211.6" x2="641.79" y2="117.6" stroke="#eeeeee" stroke-width="0.7"/><line x1="588.98" y1="211.6" x2="650.29" y2="117.6" stroke="#d6d6d6" stroke-width="0.7"/><line x1="597.52" y1="211.6" x2="658.79" y2="117.6" stroke="#eeeeee" stroke-width="0.7"/><line x1="472.5" y1="12.93" x2="664.98" y2="12.93" stroke="#d8d8d8" stroke-width="0.8"/><line x1="472.5" y1="117.6" x2="472.5" y2="12.93" stroke="#cccccc" stroke-width="0.8"/><line x1="664.98" y1="117.6" x2="664.98" y2="12.93" stroke="#d8d8d8" stroke-width="0.8"/><line x1="480.23" y1="117.6" x2="480.23" y2="12.93" stroke="#c6c6c6" stroke-width="1"/><line x1="522.75" y1="117.6" x2="522.75" y2="12.93" stroke="#c6c6c6" stroke-width="1"/><line x1="565.26" y1="117.6" x2="565.26" y2="12.93" stroke="#c6c6c6" stroke-width="1"/><line x1="607.77" y1="117.6" x2="607.77" y2="12.93" stroke="#c6c6c6" stroke-width="1"/><line x1="650.29" y1="117.6" x2="650.29" y2="12.93" stroke="#c6c6c6" stroke-width="1"/><line x1="472.5" y1="105.46" x2="664.98" y2="105.46" stroke="#c6c6c6" stroke-width="1"/><line x1="410.5" y1="199.46" x2="472.5" y2="105.46" stroke="#b2b2b2" stroke-width="0.9"/><line x1="472.5" y1="78.16" x2="664.98" y2="78.16" stroke="#c6c6c6" stroke-width="1"/><line x1="410.5" y1="172.16" x2="472.5" y2="78.16" stroke="#b2b2b2" stroke-width="0.9"/><line x1="472.5" y1="50.85" x2="664.98" y2="50.85" stroke="#c6c6c6" stroke-width="1"/><line x1="410.5" y1="144.85" x2="472.5" y2="50.85" stroke="#b2b2b2" stroke-width="0.9"/><line x1="472.5" y1="23.55" x2="664.98" y2="23.55" stroke="#c6c6c6" stroke-width="1"/><line x1="410.5" y1="117.55" x2="472.5" y2="23.55" stroke="#b2b2b2" stroke-width="0.9"/><line x1="416.7" y1="202.2" x2="416.7" y2="97.53" stroke="#cdcdcd" stroke-width="0.9"/><line x1="429.1" y1="183.4" x2="429.1" y2="78.73" stroke="#cdcdcd" stroke-width="0.9"/><line x1="441.5" y1="164.6" x2="441.5" y2="59.93" stroke="#cdcdcd" stroke-width="0.9"/><line x1="453.9" y1="145.8" x2="453.9" y2="41.13" stroke="#cdcdcd" stroke-width="0.9"/><line x1="466.3" y1="127" x2="466.3" y2="22.33" stroke="#cdcdcd" stroke-width="0.9"/></g>
<polygon points="465.6,128.33 465.9,126.67 466.2,124.43 466.5,119.8 466.8,120.16 467.1,123.66 467.4,124.79 467.7,118.63 468,118.71 468.3,125.65 468.6,118.23 468.9,121.88 469.2,118.75 469.5,121.41 469.8,124.24 470.1,120.34 470.4,118.46 470.7,117.83 471,120.25 471.3,120.09 471.6,118.56 471.9,118.78 472.2,119.13 472.5,117.73 472.8,117.44 473.1,119.11 473.4,117.16 473.7,119.17 474,120.81 474.3,120.99 474.6,117.18 474.9,117.76 475.2,121.77 475.5,117.31 475.8,122.15 476.1,116.81 476.4,120.44 476.7,116.46 477,118.84 477.3,119.88 477.6,117.89 477.9,118.36 478.2,120.65 478.5,121.43 478.8,116.15 479.1,117.38 479.4,115.84 479.7,116.53 480,115.79 480.3,115.73 480.6,117.58 480.9,115.47 481.2,115.47 481.5,115.26 481.8,118.64 482.1,115.41 482.4,115.04 482.7,116.93 483,117.5 483.3,116.81 483.6,116.21 483.9,116.05 484.2,117.15 484.5,114.92 484.8,117.93 485.1,116.69 485.4,117.87 485.7,118.06 486,117.52 486.3,115.27 486.6,115.2 486.9,116.41 487.2,115.33 487.5,113.6 487.8,117.61 488.1,113.62 488.4,114.48 488.7,114.25 489,113.22 489.3,114.7 489.6,114.67 489.9,116.05 490.2,114.59 490.5,113.16 490.8,114.12 491.1,116.82 491.4,114.31 491.7,115.63 492,112.23 492.3,114.32 492.6,112.24 492.9,112.06 493.2,112.33 493.5,111.88 493.8,111.67 494.1,111.74 494.4,111.68 494.7,111.62 495,114.08 495.3,111.18 495.6,111.23 495.9,110.96 496.2,111.97 496.5,110.98 496.8,111.88 497.1,110.8 497.4,110.63 497.7,111.38 498,110.29 498.3,113.48 498.6,111.4 498.9,110.63 499.2,111.14 499.5,113.51 499.8,110.7 500.1,110.25 500.4,109.73 500.7,110.05 501,111.82 501.3,110.83 501.6,109.53 501.9,112.39 502.2,109.14 502.5,109.5 502.8,111.31 503.1,112.15 503.4,109.59 503.7,108.68 504,109.83 504.3,109.24 504.6,108.46 504.9,108.84 505.2,111.27 505.5,108.23 505.8,108.26 506.1,108.17 506.4,110.38 506.7,108.26 507,109.58 507.3,109.44 507.6,107.68 507.9,108.31 508.2,107.58 508.5,109.77 508.8,108.23 509.1,107.78 509.4,109.57 509.7,109.54 510,107.06 510.3,106.99 510.6,107.23 510.9,107.12 511.2,107.36 511.5,107.23 511.8,109.75 512.1,107.96 512.4,109.47 512.7,107.53 513,106.34 513.3,107.14 513.6,106.06 513.9,107.01 514.2,105.86 514.5,108.54 514.8,105.92 515.1,108.11 515.4,105.6 515.7,105.49 516,105.45 516.3,107.31 516.6,107.23 516.9,106.73 517.2,105.93 517.5,104.88 517.8,104.9 518.1,104.64 518.4,107.17 518.7,104.51 519,105.9 519.3,104.28 519.6,104.43 519.9,105.14 520.2,104.05 520.5,103.85 520.8,106.03 521.1,103.84 521.4,103.48 521.7,104.77 522,106 522.3,103.96 522.6,103.01 522.9,103.37 523.2,103.79 523.5,102.82 523.8,103.01 524.1,103.9 524.4,103.45 524.7,104.01 525,104.44 525.3,102.65 525.6,104.33 525.9,101.79 526.2,102.37 526.5,102.79 526.8,103.77 527.1,102.03 527.4,101.87 527.7,103.37 528,101.8 528.3,101.16 528.6,101.6 528.9,101.19 529.2,102.04 529.5,102.58 529.8,100.73 530.1,100.84 530.4,102.53 530.7,101.98 531,101.72 531.3,100.37 531.6,102.19 531.9,101.55 532.2,101.27 532.5,100.14 532.8,100.29 533.1,99.12 533.4,98.93 533.7,98.68 534,98.26 534.3,98.5 534.6,99.72 534.9,97.83 535.2,98.15 535.5,97.59 535.8,98 536.4,94.8 539.9,76.7 543.5,85.8 551.5,45.8 553.3,71.4 560.8,27.2 562.5,53.3 564.3,27.6 566.1,32.8 569.6,26.3 572.6,23.6 574.9,23.1 577.6,23.8 580.1,26.8 583.2,33.4 585.6,39.8 587.7,46.9 590.4,36.8 592.6,49.8 595.6,65 597.2,79.8 599.5,51.5 601.6,64.8 603.6,76.4 605.8,93.1 610.9,78.4 613.2,103.3 615.2,87.4 617.1,101 619.1,97.6 620.5,108.4 621.27,106.24 622.03,105.33 622.8,103.8 623.65,107.29 624.5,108.4 625.23,107.72 625.97,108.55 626.7,107.8 627.55,108.66 628.4,110 629.12,109.6 629.85,110.32 630.58,111.33 631.3,112.3 632.15,111.26 633,113.92 633.85,112.72 634.7,113.4 635.65,115.62 636.6,115.3 637.35,114.82 638.1,113.3 638.85,114.88 639.6,116.3 640.35,117.23 641.1,113.8 642.2,116.3 642.4,114.07 642.6,115.85 642.8,117.32 643,117.87 643.2,113.48 643.4,112.3 643.6,115.49 643.8,125.21 644,115.42 644.2,121.88 644.4,112.81 644.6,124.39 644.8,114.53 645,112.84 645.2,121.06 645.4,126.58 645.6,114.12 645.8,125.18 646,126.62 646.2,120.58 646.4,126.75 646.6,112.71 646.8,116.15 647,111.72 647.2,124.92 647.4,115.17 647.6,121.74 647.8,114.69 648,127.01 648.2,118.51 648.4,112.19 648.6,120.75 648.8,111.33 649,113.12 649.2,125.9 649.4,113.32 649.6,121.38 649.8,113.79 650,117.7 650.2,111.58 650.4,110.36 650.6,112.13 650.8,122.9 651,115.22 651.2,110.24 651.4,109.47 651.6,122.43 651.8,122.48 652,111.35 652.2,110.01 652.4,113.13 652.6,126.68 652.8,112.56 653,113.85 653.2,116.35 653.4,113.87 653.6,125.68 653.8,112.12 654,122.49 654.2,124.8 654.4,111.73 654.6,122.16 654.8,109 655,123.51 655.2,126.98 655.4,125.67 655.6,124.32 655.8,111.91 656,118.5 656.2,122.56 656.4,110.25 656.6,115.9 656.8,110.5 657,112.57 657.2,119.35 657.4,111.27 657.6,122.82 657.8,119.02 658,111.23 658.2,119.46 658.4,112.05 658.6,121.32 658.8,109.02 659,108.24 659.2,108.05 659.2,127 465.6,127" fill="#fff"/>
<polyline points="465.6,128.33 465.9,126.67 466.2,124.43 466.5,119.8 466.8,120.16 467.1,123.66 467.4,124.79 467.7,118.63 468,118.71 468.3,125.65 468.6,118.23 468.9,121.88 469.2,118.75 469.5,121.41 469.8,124.24 470.1,120.34 470.4,118.46 470.7,117.83 471,120.25 471.3,120.09 471.6,118.56 471.9,118.78 472.2,119.13 472.5,117.73 472.8,117.44 473.1,119.11 473.4,117.16 473.7,119.17 474,120.81 474.3,120.99 474.6,117.18 474.9,117.76 475.2,121.77 475.5,117.31 475.8,122.15 476.1,116.81 476.4,120.44 476.7,116.46 477,118.84 477.3,119.88 477.6,117.89 477.9,118.36 478.2,120.65 478.5,121.43 478.8,116.15 479.1,117.38 479.4,115.84 479.7,116.53 480,115.79 480.3,115.73 480.6,117.58 480.9,115.47 481.2,115.47 481.5,115.26 481.8,118.64 482.1,115.41 482.4,115.04 482.7,116.93 483,117.5 483.3,116.81 483.6,116.21 483.9,116.05 484.2,117.15 484.5,114.92 484.8,117.93 485.1,116.69 485.4,117.87 485.7,118.06 486,117.52 486.3,115.27 486.6,115.2 486.9,116.41 487.2,115.33 487.5,113.6 487.8,117.61 488.1,113.62 488.4,114.48 488.7,114.25 489,113.22 489.3,114.7 489.6,114.67 489.9,116.05 490.2,114.59 490.5,113.16 490.8,114.12 491.1,116.82 491.4,114.31 491.7,115.63 492,112.23 492.3,114.32 492.6,112.24 492.9,112.06 493.2,112.33 493.5,111.88 493.8,111.67 494.1,111.74 494.4,111.68 494.7,111.62 495,114.08 495.3,111.18 495.6,111.23 495.9,110.96 496.2,111.97 496.5,110.98 496.8,111.88 497.1,110.8 497.4,110.63 497.7,111.38 498,110.29 498.3,113.48 498.6,111.4 498.9,110.63 499.2,111.14 499.5,113.51 499.8,110.7 500.1,110.25 500.4,109.73 500.7,110.05 501,111.82 501.3,110.83 501.6,109.53 501.9,112.39 502.2,109.14 502.5,109.5 502.8,111.31 503.1,112.15 503.4,109.59 503.7,108.68 504,109.83 504.3,109.24 504.6,108.46 504.9,108.84 505.2,111.27 505.5,108.23 505.8,108.26 506.1,108.17 506.4,110.38 506.7,108.26 507,109.58 507.3,109.44 507.6,107.68 507.9,108.31 508.2,107.58 508.5,109.77 508.8,108.23 509.1,107.78 509.4,109.57 509.7,109.54 510,107.06 510.3,106.99 510.6,107.23 510.9,107.12 511.2,107.36 511.5,107.23 511.8,109.75 512.1,107.96 512.4,109.47 512.7,107.53 513,106.34 513.3,107.14 513.6,106.06 513.9,107.01 514.2,105.86 514.5,108.54 514.8,105.92 515.1,108.11 515.4,105.6 515.7,105.49 516,105.45 516.3,107.31 516.6,107.23 516.9,106.73 517.2,105.93 517.5,104.88 517.8,104.9 518.1,104.64 518.4,107.17 518.7,104.51 519,105.9 519.3,104.28 519.6,104.43 519.9,105.14 520.2,104.05 520.5,103.85 520.8,106.03 521.1,103.84 521.4,103.48 521.7,104.77 522,106 522.3,103.96 522.6,103.01 522.9,103.37 523.2,103.79 523.5,102.82 523.8,103.01 524.1,103.9 524.4,103.45 524.7,104.01 525,104.44 525.3,102.65 525.6,104.33 525.9,101.79 526.2,102.37 526.5,102.79 526.8,103.77 527.1,102.03 527.4,101.87 527.7,103.37 528,101.8 528.3,101.16 528.6,101.6 528.9,101.19 529.2,102.04 529.5,102.58 529.8,100.73 530.1,100.84 530.4,102.53 530.7,101.98 531,101.72 531.3,100.37 531.6,102.19 531.9,101.55 532.2,101.27 532.5,100.14 532.8,100.29 533.1,99.12 533.4,98.93 533.7,98.68 534,98.26 534.3,98.5 534.6,99.72 534.9,97.83 535.2,98.15 535.5,97.59 535.8,98 536.4,94.8 539.9,76.7 543.5,85.8 551.5,45.8 553.3,71.4 560.8,27.2 562.5,53.3 564.3,27.6 566.1,32.8 569.6,26.3 572.6,23.6 574.9,23.1 577.6,23.8 580.1,26.8 583.2,33.4 585.6,39.8 587.7,46.9 590.4,36.8 592.6,49.8 595.6,65 597.2,79.8 599.5,51.5 601.6,64.8 603.6,76.4 605.8,93.1 610.9,78.4 613.2,103.3 615.2,87.4 617.1,101 619.1,97.6 620.5,108.4 621.27,106.24 622.03,105.33 622.8,103.8 623.65,107.29 624.5,108.4 625.23,107.72 625.97,108.55 626.7,107.8 627.55,108.66 628.4,110 629.12,109.6 629.85,110.32 630.58,111.33 631.3,112.3 632.15,111.26 633,113.92 633.85,112.72 634.7,113.4 635.65,115.62 636.6,115.3 637.35,114.82 638.1,113.3 638.85,114.88 639.6,116.3 640.35,117.23 641.1,113.8 642.2,116.3 642.4,114.07 642.6,115.85 642.8,117.32 643,117.87 643.2,113.48 643.4,112.3 643.6,115.49 643.8,125.21 644,115.42 644.2,121.88 644.4,112.81 644.6,124.39 644.8,114.53 645,112.84 645.2,121.06 645.4,126.58 645.6,114.12 645.8,125.18 646,126.62 646.2,120.58 646.4,126.75 646.6,112.71 646.8,116.15 647,111.72 647.2,124.92 647.4,115.17 647.6,121.74 647.8,114.69 648,127.01 648.2,118.51 648.4,112.19 648.6,120.75 648.8,111.33 649,113.12 649.2,125.9 649.4,113.32 649.6,121.38 649.8,113.79 650,117.7 650.2,111.58 650.4,110.36 650.6,112.13 650.8,122.9 651,115.22 651.2,110.24 651.4,109.47 651.6,122.43 651.8,122.48 652,111.35 652.2,110.01 652.4,113.13 652.6,126.68 652.8,112.56 653,113.85 653.2,116.35 653.4,113.87 653.6,125.68 653.8,112.12 654,122.49 654.2,124.8 654.4,111.73 654.6,122.16 654.8,109 655,123.51 655.2,126.98 655.4,125.67 655.6,124.32 655.8,111.91 656,118.5 656.2,122.56 656.4,110.25 656.6,115.9 656.8,110.5 657,112.57 657.2,119.35 657.4,111.27 657.6,122.82 657.8,119.02 658,111.23 658.2,119.46 658.4,112.05 658.6,121.32 658.8,109.02 659,108.24 659.2,108.05" fill="none" stroke="#4db548" stroke-width="1.5" stroke-linejoin="round"/>
<polygon points="453.2,147.47 453.5,140.39 453.8,143.05 454.1,143.09 454.4,138.37 454.7,137.83 455,140.94 455.3,137.56 455.6,138.59 455.9,144.36 456.2,143.9 456.5,136.85 456.8,136.61 457.1,136.83 457.4,142.51 457.7,136.03 458,136.32 458.3,135.78 458.6,135.65 458.9,138.17 459.2,136.55 459.5,137.28 459.8,139.43 460.1,139.26 460.4,137.08 460.7,139.68 461,137.87 461.3,139.93 461.6,136.12 461.9,136.49 462.2,137.62 462.5,140.89 462.8,137.74 463.1,136.73 463.4,135.81 463.7,135.83 464,135.58 464.3,140.63 464.6,139.52 464.9,139.51 465.2,136.58 465.5,137.72 465.8,135.39 466.1,136.1 466.4,134.89 466.7,135.66 467,134.98 467.3,134.62 467.6,138.99 467.9,134.45 468.2,137.82 468.5,136.81 468.8,134.19 469.1,135.3 469.4,139.16 469.7,138.97 470,135.46 470.3,136.81 470.6,136.24 470.9,134 471.2,135.03 471.5,135.21 471.8,134.1 472.1,136.63 472.4,134.14 472.7,135.89 473,133 473.3,133.89 473.6,132.82 473.9,134.81 474.2,136.41 474.5,134.02 474.8,134.05 475.1,134.29 475.4,132.57 475.7,132.95 476,133.77 476.3,134.08 476.6,132.67 476.9,132.99 477.2,132.34 477.5,133.17 477.8,133.78 478.1,132.03 478.4,133.62 478.7,134.69 479,132.56 479.3,135.58 479.6,131.47 479.9,134.82 480.2,130.98 480.5,131.34 480.8,133.67 481.1,130.54 481.4,132.14 481.7,133.75 482,134.23 482.3,132.22 482.6,130.58 482.9,130.44 483.2,131.6 483.5,129.77 483.8,129.66 484.1,132.93 484.4,131.16 484.7,129.47 485,130.05 485.3,129.52 485.6,132.28 485.9,129.31 486.2,131.08 486.5,131.09 486.8,129.1 487.1,128.84 487.4,129.61 487.7,129.07 488,129.78 488.3,128.7 488.6,130.75 488.9,128.82 489.2,128.1 489.5,130.36 489.8,131.08 490.1,129.64 490.4,128.9 490.7,130.64 491,130.99 491.3,127.48 491.6,128.33 491.9,127.33 492.2,127.68 492.5,127.4 492.8,127.91 493.1,128.77 493.4,129.75 493.7,127.12 494,126.79 494.3,130.44 494.6,128.91 494.9,127.68 495.2,126.53 495.5,126.41 495.8,129.51 496.1,127.26 496.4,128.84 496.7,128.3 497,128.03 497.3,128.24 497.6,126.07 497.9,125.97 498.2,126.33 498.5,127.63 498.8,127.67 499.1,127.38 499.4,126.46 499.7,126 500,125.26 500.3,126.54 500.6,126.39 500.9,125.75 501.2,126.53 501.5,127.85 501.8,127.52 502.1,124.54 502.4,124.69 502.7,125.54 503,125.77 503.3,124.41 503.6,126.81 503.9,124.64 504.2,125.72 504.5,123.8 504.8,123.95 505.1,123.62 505.4,125.45 505.7,124.27 506,126.1 506.3,124.37 506.6,123.48 506.9,123.46 507.2,123.41 507.5,122.99 507.8,122.79 508.1,123.86 508.4,122.8 508.7,122.99 509,123.71 509.3,122.38 509.6,122.59 509.9,122.22 510.2,122.1 510.5,122.92 510.8,121.6 511.1,121.89 511.4,121.37 511.7,122.42 512,121.34 512.3,123.45 512.6,121.48 512.9,121.89 513.2,121.34 513.5,122.3 513.8,121.75 514.1,121.47 514.4,120.33 514.7,120.3 515,121.64 515.3,120.54 515.6,122.5 515.9,121 516.2,121.64 516.5,121.24 516.8,122.14 517.1,120.78 517.4,121.81 517.7,119.85 518,119.41 518.3,119.11 518.6,119.09 518.9,120.85 519.2,119.75 519.5,118.48 519.8,118.33 520.1,118.73 520.4,118.8 520.7,118.21 521,117.73 521.3,117.66 521.6,119.05 521.9,117.99 522.2,117.94 522.5,115.96 522.8,116.5 523.1,115.01 523.4,114.72 524,113.6 527.5,95.5 531.1,104.6 539.1,64.6 540.9,90.2 548.4,46 550.1,72.1 551.9,46.4 553.7,51.6 557.2,45.1 560.2,42.4 562.5,41.9 565.2,42.6 567.7,45.6 570.8,52.2 573.2,58.6 575.3,65.7 578,55.6 580.2,68.6 583.2,83.8 584.8,98.6 587.1,70.3 589.2,83.6 591.2,95.2 593.4,111.9 598.5,97.2 600.8,122.1 602.8,106.2 604.7,119.8 606.7,116.4 608.1,127.2 608.87,126.94 609.63,123.33 610.4,122.6 611.25,124.32 612.1,127.2 612.83,126.21 613.57,127.83 614.3,126.6 615.15,128.22 616,128.8 616.73,129.63 617.45,130.93 618.18,130.42 618.9,131.1 619.75,132.54 620.6,132.43 621.45,131.36 622.3,132.2 623.25,133.75 624.2,134.1 624.95,134.92 625.7,132.1 626.45,135.88 627.2,135.1 627.95,134.8 628.7,132.6 629.8,135.1 630,146.06 630.2,144 630.4,131.74 630.6,134.53 630.8,142.1 631,139.03 631.2,131.49 631.4,132.15 631.6,132.66 631.8,135.51 632,146.15 632.2,138.02 632.4,136.35 632.6,145 632.8,131.67 633,133.3 633.2,132.91 633.4,130.17 633.6,135.51 633.8,142.42 634,132.42 634.2,133.53 634.4,134.49 634.6,133.99 634.8,130.43 635,144.85 635.2,130.6 635.4,142.38 635.6,135.21 635.8,139.55 636,140.17 636.2,140.56 636.4,133.4 636.6,133.92 636.8,145.64 637,133.97 637.2,138.06 637.4,141.21 637.6,129.86 637.8,144.19 638,133.82 638.2,132.58 638.4,144.84 638.6,143.4 638.8,140.57 639,140.17 639.2,143.55 639.4,132.92 639.6,137.14 639.8,140.63 640,135.61 640.2,139.58 640.4,137.82 640.6,130.38 640.8,143.73 641,144.86 641.2,128.13 641.4,131.27 641.6,135.5 641.8,138.71 642,135.76 642.2,130.87 642.4,132.84 642.6,138.53 642.8,130.01 643,137.33 643.2,140.31 643.4,142.4 643.6,135.33 643.8,141.3 644,130.01 644.2,128.91 644.4,126.6 644.6,131.28 644.8,145.39 645,141.39 645.2,145.68 645.4,129.09 645.6,133.59 645.8,142.08 646,130.54 646.2,130.06 646.4,144.37 646.6,134.25 646.8,136.04 646.8,145.8 453.2,145.8" fill="#fff"/>
<polyline points="453.2,147.47 453.5,140.39 453.8,143.05 454.1,143.09 454.4,138.37 454.7,137.83 455,140.94 455.3,137.56 455.6,138.59 455.9,144.36 456.2,143.9 456.5,136.85 456.8,136.61 457.1,136.83 457.4,142.51 457.7,136.03 458,136.32 458.3,135.78 458.6,135.65 458.9,138.17 459.2,136.55 459.5,137.28 459.8,139.43 460.1,139.26 460.4,137.08 460.7,139.68 461,137.87 461.3,139.93 461.6,136.12 461.9,136.49 462.2,137.62 462.5,140.89 462.8,137.74 463.1,136.73 463.4,135.81 463.7,135.83 464,135.58 464.3,140.63 464.6,139.52 464.9,139.51 465.2,136.58 465.5,137.72 465.8,135.39 466.1,136.1 466.4,134.89 466.7,135.66 467,134.98 467.3,134.62 467.6,138.99 467.9,134.45 468.2,137.82 468.5,136.81 468.8,134.19 469.1,135.3 469.4,139.16 469.7,138.97 470,135.46 470.3,136.81 470.6,136.24 470.9,134 471.2,135.03 471.5,135.21 471.8,134.1 472.1,136.63 472.4,134.14 472.7,135.89 473,133 473.3,133.89 473.6,132.82 473.9,134.81 474.2,136.41 474.5,134.02 474.8,134.05 475.1,134.29 475.4,132.57 475.7,132.95 476,133.77 476.3,134.08 476.6,132.67 476.9,132.99 477.2,132.34 477.5,133.17 477.8,133.78 478.1,132.03 478.4,133.62 478.7,134.69 479,132.56 479.3,135.58 479.6,131.47 479.9,134.82 480.2,130.98 480.5,131.34 480.8,133.67 481.1,130.54 481.4,132.14 481.7,133.75 482,134.23 482.3,132.22 482.6,130.58 482.9,130.44 483.2,131.6 483.5,129.77 483.8,129.66 484.1,132.93 484.4,131.16 484.7,129.47 485,130.05 485.3,129.52 485.6,132.28 485.9,129.31 486.2,131.08 486.5,131.09 486.8,129.1 487.1,128.84 487.4,129.61 487.7,129.07 488,129.78 488.3,128.7 488.6,130.75 488.9,128.82 489.2,128.1 489.5,130.36 489.8,131.08 490.1,129.64 490.4,128.9 490.7,130.64 491,130.99 491.3,127.48 491.6,128.33 491.9,127.33 492.2,127.68 492.5,127.4 492.8,127.91 493.1,128.77 493.4,129.75 493.7,127.12 494,126.79 494.3,130.44 494.6,128.91 494.9,127.68 495.2,126.53 495.5,126.41 495.8,129.51 496.1,127.26 496.4,128.84 496.7,128.3 497,128.03 497.3,128.24 497.6,126.07 497.9,125.97 498.2,126.33 498.5,127.63 498.8,127.67 499.1,127.38 499.4,126.46 499.7,126 500,125.26 500.3,126.54 500.6,126.39 500.9,125.75 501.2,126.53 501.5,127.85 501.8,127.52 502.1,124.54 502.4,124.69 502.7,125.54 503,125.77 503.3,124.41 503.6,126.81 503.9,124.64 504.2,125.72 504.5,123.8 504.8,123.95 505.1,123.62 505.4,125.45 505.7,124.27 506,126.1 506.3,124.37 506.6,123.48 506.9,123.46 507.2,123.41 507.5,122.99 507.8,122.79 508.1,123.86 508.4,122.8 508.7,122.99 509,123.71 509.3,122.38 509.6,122.59 509.9,122.22 510.2,122.1 510.5,122.92 510.8,121.6 511.1,121.89 511.4,121.37 511.7,122.42 512,121.34 512.3,123.45 512.6,121.48 512.9,121.89 513.2,121.34 513.5,122.3 513.8,121.75 514.1,121.47 514.4,120.33 514.7,120.3 515,121.64 515.3,120.54 515.6,122.5 515.9,121 516.2,121.64 516.5,121.24 516.8,122.14 517.1,120.78 517.4,121.81 517.7,119.85 518,119.41 518.3,119.11 518.6,119.09 518.9,120.85 519.2,119.75 519.5,118.48 519.8,118.33 520.1,118.73 520.4,118.8 520.7,118.21 521,117.73 521.3,117.66 521.6,119.05 521.9,117.99 522.2,117.94 522.5,115.96 522.8,116.5 523.1,115.01 523.4,114.72 524,113.6 527.5,95.5 531.1,104.6 539.1,64.6 540.9,90.2 548.4,46 550.1,72.1 551.9,46.4 553.7,51.6 557.2,45.1 560.2,42.4 562.5,41.9 565.2,42.6 567.7,45.6 570.8,52.2 573.2,58.6 575.3,65.7 578,55.6 580.2,68.6 583.2,83.8 584.8,98.6 587.1,70.3 589.2,83.6 591.2,95.2 593.4,111.9 598.5,97.2 600.8,122.1 602.8,106.2 604.7,119.8 606.7,116.4 608.1,127.2 608.87,126.94 609.63,123.33 610.4,122.6 611.25,124.32 612.1,127.2 612.83,126.21 613.57,127.83 614.3,126.6 615.15,128.22 616,128.8 616.73,129.63 617.45,130.93 618.18,130.42 618.9,131.1 619.75,132.54 620.6,132.43 621.45,131.36 622.3,132.2 623.25,133.75 624.2,134.1 624.95,134.92 625.7,132.1 626.45,135.88 627.2,135.1 627.95,134.8 628.7,132.6 629.8,135.1 630,146.06 630.2,144 630.4,131.74 630.6,134.53 630.8,142.1 631,139.03 631.2,131.49 631.4,132.15 631.6,132.66 631.8,135.51 632,146.15 632.2,138.02 632.4,136.35 632.6,145 632.8,131.67 633,133.3 633.2,132.91 633.4,130.17 633.6,135.51 633.8,142.42 634,132.42 634.2,133.53 634.4,134.49 634.6,133.99 634.8,130.43 635,144.85 635.2,130.6 635.4,142.38 635.6,135.21 635.8,139.55 636,140.17 636.2,140.56 636.4,133.4 636.6,133.92 636.8,145.64 637,133.97 637.2,138.06 637.4,141.21 637.6,129.86 637.8,144.19 638,133.82 638.2,132.58 638.4,144.84 638.6,143.4 638.8,140.57 639,140.17 639.2,143.55 639.4,132.92 639.6,137.14 639.8,140.63 640,135.61 640.2,139.58 640.4,137.82 640.6,130.38 640.8,143.73 641,144.86 641.2,128.13 641.4,131.27 641.6,135.5 641.8,138.71 642,135.76 642.2,130.87 642.4,132.84 642.6,138.53 642.8,130.01 643,137.33 643.2,140.31 643.4,142.4 643.6,135.33 643.8,141.3 644,130.01 644.2,128.91 644.4,126.6 644.6,131.28 644.8,145.39 645,141.39 645.2,145.68 645.4,129.09 645.6,133.59 645.8,142.08 646,130.54 646.2,130.06 646.4,144.37 646.6,134.25 646.8,136.04" fill="none" stroke="#9fc63c" stroke-width="1.5" stroke-linejoin="round"/>
<polygon points="440.8,157.65 441.1,160.77 441.4,157.36 441.7,161.6 442,160.15 442.3,157.93 442.6,159.91 442.9,159.17 443.2,156.07 443.5,158.46 443.8,159.23 444.1,158.01 444.4,162.47 444.7,160.15 445,156.31 445.3,155.3 445.6,154.8 445.9,160.51 446.2,158.68 446.5,157.55 446.8,156.32 447.1,156.58 447.4,155.3 447.7,156.61 448,154.98 448.3,157.09 448.6,157.08 448.9,157.32 449.2,154.91 449.5,154.53 449.8,155.07 450.1,157.16 450.4,155.81 450.7,157.53 451,155.29 451.3,155.07 451.6,158.69 451.9,154.2 452.2,154.22 452.5,155.82 452.8,156.03 453.1,154.8 453.4,155.4 453.7,154.69 454,155.99 454.3,157.76 454.6,157.09 454.9,155.55 455.2,154.46 455.5,157.97 455.8,154.17 456.1,155.1 456.4,156.92 456.7,155.31 457,153.58 457.3,155.57 457.6,154.48 457.9,156.86 458.2,154.45 458.5,153.83 458.8,157.14 459.1,153.62 459.4,152.92 459.7,156.48 460,156.45 460.3,152.01 460.6,151.81 460.9,155.37 461.2,155.49 461.5,152.26 461.8,151.77 462.1,153.67 462.4,155.62 462.7,151.42 463,152.09 463.3,153.16 463.6,151.18 463.9,151.69 464.2,150.88 464.5,151.8 464.8,150.87 465.1,150.55 465.4,151.13 465.7,150.43 466,150.29 466.3,150.23 466.6,150.84 466.9,150.4 467.2,152.28 467.5,150.52 467.8,149.9 468.1,149.7 468.4,149.84 468.7,151.84 469,149.42 469.3,150.11 469.6,151.95 469.9,152.01 470.2,149.79 470.5,151.89 470.8,150.47 471.1,148.78 471.4,148.49 471.7,148.48 472,150.96 472.3,148.81 472.6,151.07 472.9,151.96 473.2,151.46 473.5,148.7 473.8,147.67 474.1,147.89 474.4,147.67 474.7,149.13 475,149.33 475.3,150.72 475.6,149.18 475.9,150.83 476.2,148.64 476.5,147.82 476.8,149.65 477.1,147.05 477.4,149.1 477.7,148.7 478,149.5 478.3,146.45 478.6,146.5 478.9,149.81 479.2,146.29 479.5,146.92 479.8,147.45 480.1,146.87 480.4,148.85 480.7,149.29 481,146.18 481.3,145.73 481.6,148.73 481.9,146.28 482.2,145.66 482.5,145.43 482.8,145.28 483.1,146.45 483.4,145.41 483.7,146.17 484,148.05 484.3,145.74 484.6,148.06 484.9,144.75 485.2,146.68 485.5,146.56 485.8,147.69 486.1,144.38 486.4,145.18 486.7,145.27 487,145.34 487.3,144.78 487.6,144.18 487.9,146.59 488.2,146.34 488.5,145.31 488.8,146.63 489.1,144.5 489.4,143.42 489.7,144.88 490,143.25 490.3,144.95 490.6,144.39 490.9,143.09 491.2,142.93 491.5,142.79 491.8,142.78 492.1,145.58 492.4,142.67 492.7,144.83 493,142.38 493.3,142.59 493.6,142.82 493.9,142.44 494.2,144.75 494.5,142.05 494.8,142.48 495.1,141.8 495.4,141.59 495.7,142.82 496,141.65 496.3,141.88 496.6,142.45 496.9,140.98 497.2,140.85 497.5,142.05 497.8,143.35 498.1,140.49 498.4,140.93 498.7,142.95 499,142.01 499.3,142.65 499.6,140.65 499.9,142.29 500.2,139.67 500.5,140.13 500.8,141.29 501.1,139.75 501.4,139.78 501.7,139.72 502,139.5 502.3,140.77 502.6,141.44 502.9,139.04 503.2,139.1 503.5,140.43 503.8,140.11 504.1,140.32 504.4,139.73 504.7,140.63 505,140.18 505.3,139.22 505.6,138.23 505.9,137.89 506.2,139.65 506.5,139.49 506.8,139.49 507.1,137.46 507.4,138.54 507.7,139.23 508,136.94 508.3,136.68 508.6,136.6 508.9,136.41 509.2,137.06 509.5,137.18 509.8,136.74 510.1,135.8 510.4,136.63 510.7,136.17 511,133.78 511.6,132.4 515.1,114.3 518.7,123.4 526.7,83.4 528.5,109 536,64.8 537.7,90.9 539.5,65.2 541.3,70.4 544.8,63.9 547.8,61.2 550.1,60.7 552.8,61.4 555.3,64.4 558.4,71 560.8,77.4 562.9,84.5 565.6,74.4 567.8,87.4 570.8,102.6 572.4,117.4 574.7,89.1 576.8,102.4 578.8,114 581,130.7 586.1,116 588.4,140.9 590.4,125 592.3,138.6 594.3,135.2 595.7,146 596.47,145.65 597.23,143.55 598,141.4 598.85,142.99 599.7,146 600.43,146.04 601.17,144.68 601.9,145.4 602.75,146.22 603.6,147.6 604.32,149.05 605.05,147.38 605.77,149.43 606.5,149.9 607.35,149.99 608.2,149.84 609.05,149.51 609.9,151 610.85,152.85 611.8,152.9 612.55,151.78 613.3,150.9 614.05,153.1 614.8,153.9 615.55,153.66 616.3,151.4 617.4,153.9 617.6,152.17 617.8,164.19 618,159.59 618.2,154.71 618.4,162.15 618.6,158.64 618.8,155.29 619,154.59 619.2,149.51 619.4,159.16 619.6,163.11 619.8,152.22 620,154.59 620.2,164.03 620.4,159.46 620.6,161.1 620.8,150.63 621,164.1 621.2,150.89 621.4,150.88 621.6,149.18 621.8,159.13 622,158.17 622.2,164.82 622.4,150.57 622.6,159.5 622.8,149.13 623,158.69 623.2,160.84 623.4,153.97 623.6,162.6 623.8,162.63 624,157.22 624.2,152.32 624.4,153.58 624.6,160.27 624.8,151.21 625,160.79 625.2,159.72 625.4,160.89 625.6,152.19 625.8,152.63 626,156.66 626.2,151.28 626.4,149.25 626.6,157.98 626.8,150.17 627,164.57 627.2,151.2 627.4,152.49 627.6,147.21 627.8,149.62 628,151.08 628.2,150.84 628.4,149.27 628.6,156.08 628.8,151.23 629,148.21 629.2,161.47 629.4,159.99 629.6,163.76 629.8,164.06 630,161.44 630.2,146.36 630.4,158.06 630.6,148.88 630.8,162.96 631,150.15 631.2,164.74 631.4,159.78 631.6,159.98 631.8,164.87 632,145.85 632.2,164.23 632.4,158.27 632.6,145.66 632.8,155.78 633,145.38 633.2,157.52 633.4,153.04 633.6,149.04 633.8,154.47 634,149.31 634.2,153.1 634.4,163.54 634.4,164.6 440.8,164.6" fill="#fff"/>
<polyline points="440.8,157.65 441.1,160.77 441.4,157.36 441.7,161.6 442,160.15 442.3,157.93 442.6,159.91 442.9,159.17 443.2,156.07 443.5,158.46 443.8,159.23 444.1,158.01 444.4,162.47 444.7,160.15 445,156.31 445.3,155.3 445.6,154.8 445.9,160.51 446.2,158.68 446.5,157.55 446.8,156.32 447.1,156.58 447.4,155.3 447.7,156.61 448,154.98 448.3,157.09 448.6,157.08 448.9,157.32 449.2,154.91 449.5,154.53 449.8,155.07 450.1,157.16 450.4,155.81 450.7,157.53 451,155.29 451.3,155.07 451.6,158.69 451.9,154.2 452.2,154.22 452.5,155.82 452.8,156.03 453.1,154.8 453.4,155.4 453.7,154.69 454,155.99 454.3,157.76 454.6,157.09 454.9,155.55 455.2,154.46 455.5,157.97 455.8,154.17 456.1,155.1 456.4,156.92 456.7,155.31 457,153.58 457.3,155.57 457.6,154.48 457.9,156.86 458.2,154.45 458.5,153.83 458.8,157.14 459.1,153.62 459.4,152.92 459.7,156.48 460,156.45 460.3,152.01 460.6,151.81 460.9,155.37 461.2,155.49 461.5,152.26 461.8,151.77 462.1,153.67 462.4,155.62 462.7,151.42 463,152.09 463.3,153.16 463.6,151.18 463.9,151.69 464.2,150.88 464.5,151.8 464.8,150.87 465.1,150.55 465.4,151.13 465.7,150.43 466,150.29 466.3,150.23 466.6,150.84 466.9,150.4 467.2,152.28 467.5,150.52 467.8,149.9 468.1,149.7 468.4,149.84 468.7,151.84 469,149.42 469.3,150.11 469.6,151.95 469.9,152.01 470.2,149.79 470.5,151.89 470.8,150.47 471.1,148.78 471.4,148.49 471.7,148.48 472,150.96 472.3,148.81 472.6,151.07 472.9,151.96 473.2,151.46 473.5,148.7 473.8,147.67 474.1,147.89 474.4,147.67 474.7,149.13 475,149.33 475.3,150.72 475.6,149.18 475.9,150.83 476.2,148.64 476.5,147.82 476.8,149.65 477.1,147.05 477.4,149.1 477.7,148.7 478,149.5 478.3,146.45 478.6,146.5 478.9,149.81 479.2,146.29 479.5,146.92 479.8,147.45 480.1,146.87 480.4,148.85 480.7,149.29 481,146.18 481.3,145.73 481.6,148.73 481.9,146.28 482.2,145.66 482.5,145.43 482.8,145.28 483.1,146.45 483.4,145.41 483.7,146.17 484,148.05 484.3,145.74 484.6,148.06 484.9,144.75 485.2,146.68 485.5,146.56 485.8,147.69 486.1,144.38 486.4,145.18 486.7,145.27 487,145.34 487.3,144.78 487.6,144.18 487.9,146.59 488.2,146.34 488.5,145.31 488.8,146.63 489.1,144.5 489.4,143.42 489.7,144.88 490,143.25 490.3,144.95 490.6,144.39 490.9,143.09 491.2,142.93 491.5,142.79 491.8,142.78 492.1,145.58 492.4,142.67 492.7,144.83 493,142.38 493.3,142.59 493.6,142.82 493.9,142.44 494.2,144.75 494.5,142.05 494.8,142.48 495.1,141.8 495.4,141.59 495.7,142.82 496,141.65 496.3,141.88 496.6,142.45 496.9,140.98 497.2,140.85 497.5,142.05 497.8,143.35 498.1,140.49 498.4,140.93 498.7,142.95 499,142.01 499.3,142.65 499.6,140.65 499.9,142.29 500.2,139.67 500.5,140.13 500.8,141.29 501.1,139.75 501.4,139.78 501.7,139.72 502,139.5 502.3,140.77 502.6,141.44 502.9,139.04 503.2,139.1 503.5,140.43 503.8,140.11 504.1,140.32 504.4,139.73 504.7,140.63 505,140.18 505.3,139.22 505.6,138.23 505.9,137.89 506.2,139.65 506.5,139.49 506.8,139.49 507.1,137.46 507.4,138.54 507.7,139.23 508,136.94 508.3,136.68 508.6,136.6 508.9,136.41 509.2,137.06 509.5,137.18 509.8,136.74 510.1,135.8 510.4,136.63 510.7,136.17 511,133.78 511.6,132.4 515.1,114.3 518.7,123.4 526.7,83.4 528.5,109 536,64.8 537.7,90.9 539.5,65.2 541.3,70.4 544.8,63.9 547.8,61.2 550.1,60.7 552.8,61.4 555.3,64.4 558.4,71 560.8,77.4 562.9,84.5 565.6,74.4 567.8,87.4 570.8,102.6 572.4,117.4 574.7,89.1 576.8,102.4 578.8,114 581,130.7 586.1,116 588.4,140.9 590.4,125 592.3,138.6 594.3,135.2 595.7,146 596.47,145.65 597.23,143.55 598,141.4 598.85,142.99 599.7,146 600.43,146.04 601.17,144.68 601.9,145.4 602.75,146.22 603.6,147.6 604.32,149.05 605.05,147.38 605.77,149.43 606.5,149.9 607.35,149.99 608.2,149.84 609.05,149.51 609.9,151 610.85,152.85 611.8,152.9 612.55,151.78 613.3,150.9 614.05,153.1 614.8,153.9 615.55,153.66 616.3,151.4 617.4,153.9 617.6,152.17 617.8,164.19 618,159.59 618.2,154.71 618.4,162.15 618.6,158.64 618.8,155.29 619,154.59 619.2,149.51 619.4,159.16 619.6,163.11 619.8,152.22 620,154.59 620.2,164.03 620.4,159.46 620.6,161.1 620.8,150.63 621,164.1 621.2,150.89 621.4,150.88 621.6,149.18 621.8,159.13 622,158.17 622.2,164.82 622.4,150.57 622.6,159.5 622.8,149.13 623,158.69 623.2,160.84 623.4,153.97 623.6,162.6 623.8,162.63 624,157.22 624.2,152.32 624.4,153.58 624.6,160.27 624.8,151.21 625,160.79 625.2,159.72 625.4,160.89 625.6,152.19 625.8,152.63 626,156.66 626.2,151.28 626.4,149.25 626.6,157.98 626.8,150.17 627,164.57 627.2,151.2 627.4,152.49 627.6,147.21 627.8,149.62 628,151.08 628.2,150.84 628.4,149.27 628.6,156.08 628.8,151.23 629,148.21 629.2,161.47 629.4,159.99 629.6,163.76 629.8,164.06 630,161.44 630.2,146.36 630.4,158.06 630.6,148.88 630.8,162.96 631,150.15 631.2,164.74 631.4,159.78 631.6,159.98 631.8,164.87 632,145.85 632.2,164.23 632.4,158.27 632.6,145.66 632.8,155.78 633,145.38 633.2,157.52 633.4,153.04 633.6,149.04 633.8,154.47 634,149.31 634.2,153.1 634.4,163.54" fill="none" stroke="#dce02a" stroke-width="1.5" stroke-linejoin="round"/>
<polygon points="428.4,179.36 428.7,176.42 429,184.47 429.3,183.58 429.6,177.56 429.9,179.42 430.2,175.62 430.5,175.48 430.8,175.62 431.1,179.09 431.4,174.91 431.7,183 432,174.2 432.3,174.32 432.6,173.87 432.9,179.08 433.2,174.69 433.5,175.32 433.8,174.08 434.1,176.56 434.4,174.93 434.7,174.14 435,174.91 435.3,174.28 435.6,173.72 435.9,177.64 436.2,176.28 436.5,176.08 436.8,178.02 437.1,174.21 437.4,174.06 437.7,174.2 438,174.03 438.3,175.66 438.6,173.05 438.9,174.19 439.2,174.51 439.5,173.51 439.8,172.78 440.1,175.44 440.4,172.65 440.7,174.32 441,172.64 441.3,172.45 441.6,172.55 441.9,172.33 442.2,172.36 442.5,174.67 442.8,174.91 443.1,172.7 443.4,174.17 443.7,173.02 444,173.05 444.3,175.69 444.6,172.09 444.9,175.44 445.2,173.89 445.5,173.75 445.8,171.25 446.1,171.2 446.4,171.09 446.7,171.61 447,175.46 447.3,174.72 447.6,174.3 447.9,170.73 448.2,173.08 448.5,173.49 448.8,173.67 449.1,173.44 449.4,170.34 449.7,170.32 450,173.16 450.3,172.66 450.6,173.79 450.9,170.8 451.2,173.57 451.5,169.76 451.8,173.98 452.1,173.24 452.4,169.96 452.7,169.34 453,170.64 453.3,171.36 453.6,169.6 453.9,168.94 454.2,169.19 454.5,171.88 454.8,168.67 455.1,172.57 455.4,168.72 455.7,168.52 456,168.29 456.3,172.49 456.6,171.7 456.9,168.4 457.2,167.88 457.5,169.65 457.8,171.14 458.1,167.55 458.4,169.21 458.7,170.57 459,168.17 459.3,168.56 459.6,169.86 459.9,167.2 460.2,167.18 460.5,168.63 460.8,167.96 461.1,167.78 461.4,166.94 461.7,170.06 462,166.62 462.3,168.09 462.6,169.4 462.9,166.67 463.2,165.95 463.5,166.06 463.8,165.8 464.1,165.79 464.4,165.68 464.7,166.02 465,166.02 465.3,166.19 465.6,167.07 465.9,167.05 466.2,167.02 466.5,165.6 466.8,166.72 467.1,166.1 467.4,164.92 467.7,165.92 468,165.09 468.3,166.36 468.6,166.59 468.9,164.68 469.2,165.1 469.5,165.08 469.8,164.56 470.1,164.16 470.4,164.09 470.7,167.61 471,165.92 471.3,164.55 471.6,165.37 471.9,163.95 472.2,165.42 472.5,166.75 472.8,165.56 473.1,164.12 473.4,166.65 473.7,166.14 474,163.1 474.3,163.58 474.6,163.61 474.9,163.08 475.2,164.02 475.5,162.71 475.8,164.43 476.1,164.92 476.4,162.39 476.7,163.87 477,162.43 477.3,163.44 477.6,163.57 477.9,165.01 478.2,163.89 478.5,162.12 478.8,163.35 479.1,161.64 479.4,163.08 479.7,161.94 480,161.52 480.3,161.39 480.6,161.27 480.9,162.97 481.2,160.98 481.5,161.02 481.8,160.88 482.1,160.75 482.4,162.17 482.7,161.49 483,161.65 483.3,162.59 483.6,160.7 483.9,160 484.2,159.98 484.5,160.52 484.8,161.08 485.1,161.89 485.4,160.13 485.7,159.43 486,160.13 486.3,161.43 486.6,159.23 486.9,161.15 487.2,160.88 487.5,159.46 487.8,159.07 488.1,158.39 488.4,158.26 488.7,158.15 489,159.05 489.3,159.32 489.6,160.49 489.9,158.79 490.2,160.34 490.5,158.12 490.8,157.67 491.1,157.56 491.4,157.69 491.7,158.13 492,159.85 492.3,157.48 492.6,157.27 492.9,158.33 493.2,157.22 493.5,157.49 493.8,156.58 494.1,158.27 494.4,158.42 494.7,157.56 495,158.2 495.3,156.06 495.6,155.63 495.9,155.72 496.2,157.42 496.5,155.66 496.8,154.76 497.1,154.28 497.4,153.87 497.7,153.87 498,155.17 498.3,154.54 498.6,153.58 499.2,151.2 502.7,133.1 506.3,142.2 514.3,102.2 516.1,127.8 523.6,83.6 525.3,109.7 527.1,84 528.9,89.2 532.4,82.7 535.4,80 537.7,79.5 540.4,80.2 542.9,83.2 546,89.8 548.4,96.2 550.5,103.3 553.2,93.2 555.4,106.2 558.4,121.4 560,136.2 562.3,107.9 564.4,121.2 566.4,132.8 568.6,149.5 573.7,134.8 576,159.7 578,143.8 579.9,157.4 581.9,154 583.3,164.8 584.07,163.98 584.83,160.87 585.6,160.2 586.45,163.28 587.3,164.8 588.03,163.83 588.77,164.47 589.5,164.2 590.35,163.99 591.2,166.4 591.92,168.07 592.65,166.51 593.38,168.38 594.1,168.7 594.95,169.43 595.8,169.65 596.65,170.04 597.5,169.8 598.45,172.36 599.4,171.7 600.15,173.47 600.9,169.7 601.65,174.67 602.4,172.7 603.15,171.88 603.9,170.2 605,172.7 605.2,172.74 605.4,173.83 605.6,174.31 605.8,168.91 606,169.25 606.2,182.5 606.4,177.34 606.6,182.16 606.8,177.9 607,181.59 607.2,177.93 607.4,172.57 607.6,179.53 607.8,178.93 608,175.72 608.2,181.35 608.4,171.87 608.6,171.37 608.8,176.25 609,177.12 609.2,170.07 609.4,167.96 609.6,175.66 609.8,182.76 610,172.03 610.2,176.1 610.4,171.72 610.6,182.42 610.8,179.18 611,181.33 611.2,182.96 611.4,171.12 611.6,174.23 611.8,170.84 612,179.5 612.2,169.81 612.4,183.6 612.6,181.11 612.8,167.05 613,182.04 613.2,166.95 613.4,167.83 613.6,166.89 613.8,170.62 614,170.63 614.2,167.24 614.4,173.24 614.6,166.52 614.8,170.85 615,169.78 615.2,175.58 615.4,176.34 615.6,179.17 615.8,170.51 616,176.19 616.2,175.87 616.4,170.62 616.6,174.22 616.8,180.52 617,165.44 617.2,170.04 617.4,175.07 617.6,170.14 617.8,165.14 618,168.53 618.2,182.33 618.4,165.37 618.6,167.82 618.8,169.71 619,179.1 619.2,174.06 619.4,182.09 619.6,181.1 619.8,164.16 620,168.08 620.2,168.92 620.4,179.96 620.6,164.47 620.8,173.21 621,167.99 621.2,173.92 621.4,174.97 621.6,165.87 621.8,171.18 622,177.04 622,183.4 428.4,183.4" fill="#fff"/>
<polyline points="428.4,179.36 428.7,176.42 429,184.47 429.3,183.58 429.6,177.56 429.9,179.42 430.2,175.62 430.5,175.48 430.8,175.62 431.1,179.09 431.4,174.91 431.7,183 432,174.2 432.3,174.32 432.6,173.87 432.9,179.08 433.2,174.69 433.5,175.32 433.8,174.08 434.1,176.56 434.4,174.93 434.7,174.14 435,174.91 435.3,174.28 435.6,173.72 435.9,177.64 436.2,176.28 436.5,176.08 436.8,178.02 437.1,174.21 437.4,174.06 437.7,174.2 438,174.03 438.3,175.66 438.6,173.05 438.9,174.19 439.2,174.51 439.5,173.51 439.8,172.78 440.1,175.44 440.4,172.65 440.7,174.32 441,172.64 441.3,172.45 441.6,172.55 441.9,172.33 442.2,172.36 442.5,174.67 442.8,174.91 443.1,172.7 443.4,174.17 443.7,173.02 444,173.05 444.3,175.69 444.6,172.09 444.9,175.44 445.2,173.89 445.5,173.75 445.8,171.25 446.1,171.2 446.4,171.09 446.7,171.61 447,175.46 447.3,174.72 447.6,174.3 447.9,170.73 448.2,173.08 448.5,173.49 448.8,173.67 449.1,173.44 449.4,170.34 449.7,170.32 450,173.16 450.3,172.66 450.6,173.79 450.9,170.8 451.2,173.57 451.5,169.76 451.8,173.98 452.1,173.24 452.4,169.96 452.7,169.34 453,170.64 453.3,171.36 453.6,169.6 453.9,168.94 454.2,169.19 454.5,171.88 454.8,168.67 455.1,172.57 455.4,168.72 455.7,168.52 456,168.29 456.3,172.49 456.6,171.7 456.9,168.4 457.2,167.88 457.5,169.65 457.8,171.14 458.1,167.55 458.4,169.21 458.7,170.57 459,168.17 459.3,168.56 459.6,169.86 459.9,167.2 460.2,167.18 460.5,168.63 460.8,167.96 461.1,167.78 461.4,166.94 461.7,170.06 462,166.62 462.3,168.09 462.6,169.4 462.9,166.67 463.2,165.95 463.5,166.06 463.8,165.8 464.1,165.79 464.4,165.68 464.7,166.02 465,166.02 465.3,166.19 465.6,167.07 465.9,167.05 466.2,167.02 466.5,165.6 466.8,166.72 467.1,166.1 467.4,164.92 467.7,165.92 468,165.09 468.3,166.36 468.6,166.59 468.9,164.68 469.2,165.1 469.5,165.08 469.8,164.56 470.1,164.16 470.4,164.09 470.7,167.61 471,165.92 471.3,164.55 471.6,165.37 471.9,163.95 472.2,165.42 472.5,166.75 472.8,165.56 473.1,164.12 473.4,166.65 473.7,166.14 474,163.1 474.3,163.58 474.6,163.61 474.9,163.08 475.2,164.02 475.5,162.71 475.8,164.43 476.1,164.92 476.4,162.39 476.7,163.87 477,162.43 477.3,163.44 477.6,163.57 477.9,165.01 478.2,163.89 478.5,162.12 478.8,163.35 479.1,161.64 479.4,163.08 479.7,161.94 480,161.52 480.3,161.39 480.6,161.27 480.9,162.97 481.2,160.98 481.5,161.02 481.8,160.88 482.1,160.75 482.4,162.17 482.7,161.49 483,161.65 483.3,162.59 483.6,160.7 483.9,160 484.2,159.98 484.5,160.52 484.8,161.08 485.1,161.89 485.4,160.13 485.7,159.43 486,160.13 486.3,161.43 486.6,159.23 486.9,161.15 487.2,160.88 487.5,159.46 487.8,159.07 488.1,158.39 488.4,158.26 488.7,158.15 489,159.05 489.3,159.32 489.6,160.49 489.9,158.79 490.2,160.34 490.5,158.12 490.8,157.67 491.1,157.56 491.4,157.69 491.7,158.13 492,159.85 492.3,157.48 492.6,157.27 492.9,158.33 493.2,157.22 493.5,157.49 493.8,156.58 494.1,158.27 494.4,158.42 494.7,157.56 495,158.2 495.3,156.06 495.6,155.63 495.9,155.72 496.2,157.42 496.5,155.66 496.8,154.76 497.1,154.28 497.4,153.87 497.7,153.87 498,155.17 498.3,154.54 498.6,153.58 499.2,151.2 502.7,133.1 506.3,142.2 514.3,102.2 516.1,127.8 523.6,83.6 525.3,109.7 527.1,84 528.9,89.2 532.4,82.7 535.4,80 537.7,79.5 540.4,80.2 542.9,83.2 546,89.8 548.4,96.2 550.5,103.3 553.2,93.2 555.4,106.2 558.4,121.4 560,136.2 562.3,107.9 564.4,121.2 566.4,132.8 568.6,149.5 573.7,134.8 576,159.7 578,143.8 579.9,157.4 581.9,154 583.3,164.8 584.07,163.98 584.83,160.87 585.6,160.2 586.45,163.28 587.3,164.8 588.03,163.83 588.77,164.47 589.5,164.2 590.35,163.99 591.2,166.4 591.92,168.07 592.65,166.51 593.38,168.38 594.1,168.7 594.95,169.43 595.8,169.65 596.65,170.04 597.5,169.8 598.45,172.36 599.4,171.7 600.15,173.47 600.9,169.7 601.65,174.67 602.4,172.7 603.15,171.88 603.9,170.2 605,172.7 605.2,172.74 605.4,173.83 605.6,174.31 605.8,168.91 606,169.25 606.2,182.5 606.4,177.34 606.6,182.16 606.8,177.9 607,181.59 607.2,177.93 607.4,172.57 607.6,179.53 607.8,178.93 608,175.72 608.2,181.35 608.4,171.87 608.6,171.37 608.8,176.25 609,177.12 609.2,170.07 609.4,167.96 609.6,175.66 609.8,182.76 610,172.03 610.2,176.1 610.4,171.72 610.6,182.42 610.8,179.18 611,181.33 611.2,182.96 611.4,171.12 611.6,174.23 611.8,170.84 612,179.5 612.2,169.81 612.4,183.6 612.6,181.11 612.8,167.05 613,182.04 613.2,166.95 613.4,167.83 613.6,166.89 613.8,170.62 614,170.63 614.2,167.24 614.4,173.24 614.6,166.52 614.8,170.85 615,169.78 615.2,175.58 615.4,176.34 615.6,179.17 615.8,170.51 616,176.19 616.2,175.87 616.4,170.62 616.6,174.22 616.8,180.52 617,165.44 617.2,170.04 617.4,175.07 617.6,170.14 617.8,165.14 618,168.53 618.2,182.33 618.4,165.37 618.6,167.82 618.8,169.71 619,179.1 619.2,174.06 619.4,182.09 619.6,181.1 619.8,164.16 620,168.08 620.2,168.92 620.4,179.96 620.6,164.47 620.8,173.21 621,167.99 621.2,173.92 621.4,174.97 621.6,165.87 621.8,171.18 622,177.04" fill="none" stroke="#f0901e" stroke-width="1.5" stroke-linejoin="round"/>
<polygon points="416,195.25 416.3,196.78 416.6,200.17 416.9,199.1 417.2,199.28 417.5,195.9 417.8,199.89 418.1,196.44 418.4,193.71 418.7,195.39 419,193.32 419.3,201.13 419.6,201.2 419.9,193.81 420.2,193.48 420.5,197.85 420.8,192.63 421.1,192.37 421.4,192.23 421.7,193.65 422,195.1 422.3,198.24 422.6,192.87 422.9,198.01 423.2,194.3 423.5,197.25 423.8,196.31 424.1,192.38 424.4,194.67 424.7,192.17 425,192 425.3,192.86 425.6,195.44 425.9,193.7 426.2,192.06 426.5,195.73 426.8,196.35 427.1,191.96 427.4,192.69 427.7,193.75 428,195.91 428.3,191.46 428.6,192.98 428.9,196.33 429.2,193.18 429.5,193.88 429.8,194.26 430.1,192.34 430.4,191.33 430.7,192.65 431,192.19 431.3,191.25 431.6,194.39 431.9,191.15 432.2,191.6 432.5,193.32 432.8,193.65 433.1,194.23 433.4,192.24 433.7,190.29 434,193.56 434.3,194.02 434.6,192.31 434.9,192.61 435.2,190.88 435.5,190.69 435.8,191.08 436.1,189.41 436.4,191.49 436.7,192.81 437,189.18 437.3,191.76 437.6,191.33 437.9,188.87 438.2,188.73 438.5,190.35 438.8,188.78 439.1,188.93 439.4,190.23 439.7,190.32 440,190.88 440.3,189.65 440.6,188.54 440.9,187.92 441.2,187.88 441.5,187.9 441.8,188.91 442.1,189.93 442.4,187.63 442.7,188.03 443,191.25 443.3,187.87 443.6,189.35 443.9,188.67 444.2,188.8 444.5,187.76 444.8,187.97 445.1,188.73 445.4,186.56 445.7,189.17 446,189.6 446.3,186.16 446.6,186.22 446.9,186.22 447.2,185.9 447.5,185.84 447.8,187.43 448.1,185.63 448.4,185.48 448.7,189.16 449,185.95 449.3,186.4 449.6,186.01 449.9,185.46 450.2,185.74 450.5,184.97 450.8,186.12 451.1,184.92 451.4,184.67 451.7,184.68 452,185.11 452.3,187.83 452.6,185.7 452.9,188.03 453.2,184.75 453.5,184.31 453.8,185.95 454.1,184.03 454.4,187.69 454.7,184.32 455,183.94 455.3,183.86 455.6,183.85 455.9,186.76 456.2,187.07 456.5,184.44 456.8,183.39 457.1,183.11 457.4,183.06 457.7,183.29 458,184.4 458.3,184.24 458.6,185.38 458.9,185.09 459.2,183.02 459.5,184.12 459.8,183.12 460.1,184.22 460.4,182.37 460.7,185.51 461,182.07 461.3,183.31 461.6,182.32 461.9,184.01 462.2,181.78 462.5,184.33 462.8,181.53 463.1,183.27 463.4,183.01 463.7,182.12 464,181.28 464.3,181.57 464.6,181.65 464.9,181.05 465.2,180.9 465.5,183.02 465.8,181.61 466.1,180.78 466.4,181.7 466.7,181.64 467,180.34 467.3,181.26 467.6,181.16 467.9,180.05 468.2,180.2 468.5,182.11 468.8,180.76 469.1,179.81 469.4,180.03 469.7,180.11 470,180.87 470.3,181.45 470.6,179.18 470.9,179.04 471.2,179.48 471.5,178.8 471.8,178.75 472.1,178.59 472.4,178.47 472.7,179.42 473,178.23 473.3,178.98 473.6,180.53 473.9,177.91 474.2,179.29 474.5,178.53 474.8,177.58 475.1,179.77 475.4,178.69 475.7,177.52 476,179.08 476.3,176.98 476.6,178.68 476.9,178.65 477.2,176.76 477.5,178.83 477.8,178.17 478.1,178.67 478.4,176.63 478.7,177.77 479,177.86 479.3,176.52 479.6,176.13 479.9,176.05 480.2,176.59 480.5,176.56 480.8,175.67 481.1,176.51 481.4,175.33 481.7,175.77 482,175.7 482.3,174.98 482.6,174.73 482.9,176.7 483.2,176.31 483.5,175.17 483.8,174.13 484.1,174.6 484.4,175.86 484.7,174.55 485,173.83 485.3,172.17 485.6,172.61 485.9,171.45 486.2,173.41 486.8,170 490.3,151.9 493.9,161 501.9,121 503.7,146.6 511.2,102.4 512.9,128.5 514.7,102.8 516.5,108 520,101.5 523,98.8 525.3,98.3 528,99 530.5,102 533.6,108.6 536,115 538.1,122.1 540.8,112 543,125 546,140.2 547.6,155 549.9,126.7 552,140 554,151.6 556.2,168.3 561.3,153.6 563.6,178.5 565.6,162.6 567.5,176.2 569.5,172.8 570.9,183.6 571.67,180.7 572.43,179.76 573.2,179 574.05,182.36 574.9,183.6 575.63,182.34 576.37,182.64 577.1,183 577.95,183.56 578.8,185.2 579.52,186.84 580.25,186.9 580.98,188.14 581.7,187.5 582.55,186.91 583.4,186.9 584.25,187.89 585.1,188.6 586.05,191.84 587,190.5 587.75,192.5 588.5,188.5 589.25,189.62 590,191.5 590.75,190.09 591.5,189 592.6,191.5 592.8,198.41 593,195.12 593.2,196.18 593.4,201.4 593.6,190.55 593.8,194.79 594,189.71 594.2,188.26 594.4,188.62 594.6,188.72 594.8,202.18 595,186.99 595.2,191.9 595.4,190.66 595.6,188.74 595.8,190.25 596,191.13 596.2,197.43 596.4,191.38 596.6,189.28 596.8,200.74 597,191.73 597.2,189.57 597.4,200.07 597.6,188.33 597.8,191.39 598,196.47 598.2,199.02 598.4,188.67 598.6,186.88 598.8,186.03 599,200.96 599.2,195.03 599.4,196.11 599.6,198.63 599.8,189.34 600,199.57 600.2,201.21 600.4,196.28 600.6,196.54 600.8,190.65 601,197.81 601.2,199.45 601.4,189.44 601.6,202.24 601.8,186.2 602,197.85 602.2,192.35 602.4,201.63 602.6,184.81 602.8,188.11 603,197.44 603.2,188.32 603.4,197.12 603.6,189.74 603.8,187.23 604,200.23 604.2,198.98 604.4,189.45 604.6,186.13 604.8,187.83 605,184.64 605.2,187.2 605.4,201.12 605.6,184.48 605.8,195.32 606,185.52 606.2,186.88 606.4,199.36 606.6,192.15 606.8,199.7 607,185.62 607.2,184.57 607.4,194.98 607.6,186.84 607.8,191.47 608,199.78 608.2,186.85 608.4,184.87 608.6,182.36 608.8,186.19 609,185.22 609.2,185.73 609.4,199.35 609.6,187.65 609.6,202.2 416,202.2" fill="#fff"/>
<polyline points="416,195.25 416.3,196.78 416.6,200.17 416.9,199.1 417.2,199.28 417.5,195.9 417.8,199.89 418.1,196.44 418.4,193.71 418.7,195.39 419,193.32 419.3,201.13 419.6,201.2 419.9,193.81 420.2,193.48 420.5,197.85 420.8,192.63 421.1,192.37 421.4,192.23 421.7,193.65 422,195.1 422.3,198.24 422.6,192.87 422.9,198.01 423.2,194.3 423.5,197.25 423.8,196.31 424.1,192.38 424.4,194.67 424.7,192.17 425,192 425.3,192.86 425.6,195.44 425.9,193.7 426.2,192.06 426.5,195.73 426.8,196.35 427.1,191.96 427.4,192.69 427.7,193.75 428,195.91 428.3,191.46 428.6,192.98 428.9,196.33 429.2,193.18 429.5,193.88 429.8,194.26 430.1,192.34 430.4,191.33 430.7,192.65 431,192.19 431.3,191.25 431.6,194.39 431.9,191.15 432.2,191.6 432.5,193.32 432.8,193.65 433.1,194.23 433.4,192.24 433.7,190.29 434,193.56 434.3,194.02 434.6,192.31 434.9,192.61 435.2,190.88 435.5,190.69 435.8,191.08 436.1,189.41 436.4,191.49 436.7,192.81 437,189.18 437.3,191.76 437.6,191.33 437.9,188.87 438.2,188.73 438.5,190.35 438.8,188.78 439.1,188.93 439.4,190.23 439.7,190.32 440,190.88 440.3,189.65 440.6,188.54 440.9,187.92 441.2,187.88 441.5,187.9 441.8,188.91 442.1,189.93 442.4,187.63 442.7,188.03 443,191.25 443.3,187.87 443.6,189.35 443.9,188.67 444.2,188.8 444.5,187.76 444.8,187.97 445.1,188.73 445.4,186.56 445.7,189.17 446,189.6 446.3,186.16 446.6,186.22 446.9,186.22 447.2,185.9 447.5,185.84 447.8,187.43 448.1,185.63 448.4,185.48 448.7,189.16 449,185.95 449.3,186.4 449.6,186.01 449.9,185.46 450.2,185.74 450.5,184.97 450.8,186.12 451.1,184.92 451.4,184.67 451.7,184.68 452,185.11 452.3,187.83 452.6,185.7 452.9,188.03 453.2,184.75 453.5,184.31 453.8,185.95 454.1,184.03 454.4,187.69 454.7,184.32 455,183.94 455.3,183.86 455.6,183.85 455.9,186.76 456.2,187.07 456.5,184.44 456.8,183.39 457.1,183.11 457.4,183.06 457.7,183.29 458,184.4 458.3,184.24 458.6,185.38 458.9,185.09 459.2,183.02 459.5,184.12 459.8,183.12 460.1,184.22 460.4,182.37 460.7,185.51 461,182.07 461.3,183.31 461.6,182.32 461.9,184.01 462.2,181.78 462.5,184.33 462.8,181.53 463.1,183.27 463.4,183.01 463.7,182.12 464,181.28 464.3,181.57 464.6,181.65 464.9,181.05 465.2,180.9 465.5,183.02 465.8,181.61 466.1,180.78 466.4,181.7 466.7,181.64 467,180.34 467.3,181.26 467.6,181.16 467.9,180.05 468.2,180.2 468.5,182.11 468.8,180.76 469.1,179.81 469.4,180.03 469.7,180.11 470,180.87 470.3,181.45 470.6,179.18 470.9,179.04 471.2,179.48 471.5,178.8 471.8,178.75 472.1,178.59 472.4,178.47 472.7,179.42 473,178.23 473.3,178.98 473.6,180.53 473.9,177.91 474.2,179.29 474.5,178.53 474.8,177.58 475.1,179.77 475.4,178.69 475.7,177.52 476,179.08 476.3,176.98 476.6,178.68 476.9,178.65 477.2,176.76 477.5,178.83 477.8,178.17 478.1,178.67 478.4,176.63 478.7,177.77 479,177.86 479.3,176.52 479.6,176.13 479.9,176.05 480.2,176.59 480.5,176.56 480.8,175.67 481.1,176.51 481.4,175.33 481.7,175.77 482,175.7 482.3,174.98 482.6,174.73 482.9,176.7 483.2,176.31 483.5,175.17 483.8,174.13 484.1,174.6 484.4,175.86 484.7,174.55 485,173.83 485.3,172.17 485.6,172.61 485.9,171.45 486.2,173.41 486.8,170 490.3,151.9 493.9,161 501.9,121 503.7,146.6 511.2,102.4 512.9,128.5 514.7,102.8 516.5,108 520,101.5 523,98.8 525.3,98.3 528,99 530.5,102 533.6,108.6 536,115 538.1,122.1 540.8,112 543,125 546,140.2 547.6,155 549.9,126.7 552,140 554,151.6 556.2,168.3 561.3,153.6 563.6,178.5 565.6,162.6 567.5,176.2 569.5,172.8 570.9,183.6 571.67,180.7 572.43,179.76 573.2,179 574.05,182.36 574.9,183.6 575.63,182.34 576.37,182.64 577.1,183 577.95,183.56 578.8,185.2 579.52,186.84 580.25,186.9 580.98,188.14 581.7,187.5 582.55,186.91 583.4,186.9 584.25,187.89 585.1,188.6 586.05,191.84 587,190.5 587.75,192.5 588.5,188.5 589.25,189.62 590,191.5 590.75,190.09 591.5,189 592.6,191.5 592.8,198.41 593,195.12 593.2,196.18 593.4,201.4 593.6,190.55 593.8,194.79 594,189.71 594.2,188.26 594.4,188.62 594.6,188.72 594.8,202.18 595,186.99 595.2,191.9 595.4,190.66 595.6,188.74 595.8,190.25 596,191.13 596.2,197.43 596.4,191.38 596.6,189.28 596.8,200.74 597,191.73 597.2,189.57 597.4,200.07 597.6,188.33 597.8,191.39 598,196.47 598.2,199.02 598.4,188.67 598.6,186.88 598.8,186.03 599,200.96 599.2,195.03 599.4,196.11 599.6,198.63 599.8,189.34 600,199.57 600.2,201.21 600.4,196.28 600.6,196.54 600.8,190.65 601,197.81 601.2,199.45 601.4,189.44 601.6,202.24 601.8,186.2 602,197.85 602.2,192.35 602.4,201.63 602.6,184.81 602.8,188.11 603,197.44 603.2,188.32 603.4,197.12 603.6,189.74 603.8,187.23 604,200.23 604.2,198.98 604.4,189.45 604.6,186.13 604.8,187.83 605,184.64 605.2,187.2 605.4,201.12 605.6,184.48 605.8,195.32 606,185.52 606.2,186.88 606.4,199.36 606.6,192.15 606.8,199.7 607,185.62 607.2,184.57 607.4,194.98 607.6,186.84 607.8,191.47 608,199.78 608.2,186.85 608.4,184.87 608.6,182.36 608.8,186.19 609,185.22 609.2,185.73 609.4,199.35 609.6,187.65" fill="none" stroke="#e8461c" stroke-width="1.5" stroke-linejoin="round"/>
<line x1="410.5" y1="212.4" x2="410.5" y2="106.9" stroke="#000" stroke-width="1.6"/>
<line x1="409.7" y1="211.6" x2="603.72" y2="211.6" stroke="#000" stroke-width="1.8"/>
<line x1="603.72" y1="211.6" x2="664.98" y2="117.6" stroke="#000" stroke-width="1.6"/>
<line x1="407.9" y1="199.46" x2="410.5" y2="199.46" stroke="#000" stroke-width="1.4"/>
<text x="406.3" y="202.66" font-size="11.7" font-weight="bold" text-anchor="end" fill="#000">-72</text>
<line x1="407.9" y1="172.16" x2="410.5" y2="172.16" stroke="#000" stroke-width="1.4"/>
<text x="406.3" y="175.36" font-size="11.7" font-weight="bold" text-anchor="end" fill="#000">-54</text>
<line x1="407.9" y1="144.85" x2="410.5" y2="144.85" stroke="#000" stroke-width="1.4"/>
<text x="406.3" y="148.05" font-size="11.7" font-weight="bold" text-anchor="end" fill="#000">-36</text>
<line x1="407.9" y1="117.55" x2="410.5" y2="117.55" stroke="#000" stroke-width="1.4"/>
<text x="406.3" y="120.75" font-size="11.7" font-weight="bold" text-anchor="end" fill="#000">-18</text>
<line x1="408.9" y1="210.39" x2="410.5" y2="210.39" stroke="#000" stroke-width="1.1"/>
<line x1="408.9" y1="204.93" x2="410.5" y2="204.93" stroke="#000" stroke-width="1.1"/>
<line x1="408.9" y1="194" x2="410.5" y2="194" stroke="#000" stroke-width="1.1"/>
<line x1="408.9" y1="188.54" x2="410.5" y2="188.54" stroke="#000" stroke-width="1.1"/>
<line x1="408.9" y1="183.08" x2="410.5" y2="183.08" stroke="#000" stroke-width="1.1"/>
<line x1="408.9" y1="177.62" x2="410.5" y2="177.62" stroke="#000" stroke-width="1.1"/>
<line x1="408.9" y1="166.7" x2="410.5" y2="166.7" stroke="#000" stroke-width="1.1"/>
<line x1="408.9" y1="161.24" x2="410.5" y2="161.24" stroke="#000" stroke-width="1.1"/>
<line x1="408.9" y1="155.77" x2="410.5" y2="155.77" stroke="#000" stroke-width="1.1"/>
<line x1="408.9" y1="150.31" x2="410.5" y2="150.31" stroke="#000" stroke-width="1.1"/>
<line x1="408.9" y1="139.39" x2="410.5" y2="139.39" stroke="#000" stroke-width="1.1"/>
<line x1="408.9" y1="133.93" x2="410.5" y2="133.93" stroke="#000" stroke-width="1.1"/>
<line x1="408.9" y1="128.47" x2="410.5" y2="128.47" stroke="#000" stroke-width="1.1"/>
<line x1="408.9" y1="123.01" x2="410.5" y2="123.01" stroke="#000" stroke-width="1.1"/>
<line x1="408.9" y1="112.08" x2="410.5" y2="112.08" stroke="#000" stroke-width="1.1"/>
<line x1="418.26" y1="211.6" x2="418.26" y2="214.4" stroke="#000" stroke-width="1.4"/>
<text x="418.56" y="225.3" font-size="11.7" font-weight="bold" text-anchor="middle" fill="#000">1430</text>
<line x1="460.94" y1="211.6" x2="460.94" y2="214.4" stroke="#000" stroke-width="1.4"/>
<text x="461.24" y="225.3" font-size="11.7" font-weight="bold" text-anchor="middle" fill="#000">1485</text>
<line x1="503.62" y1="211.6" x2="503.62" y2="214.4" stroke="#000" stroke-width="1.4"/>
<text x="503.92" y="225.3" font-size="11.7" font-weight="bold" text-anchor="middle" fill="#000">1540</text>
<line x1="546.3" y1="211.6" x2="546.3" y2="214.4" stroke="#000" stroke-width="1.4"/>
<text x="546.6" y="225.3" font-size="11.7" font-weight="bold" text-anchor="middle" fill="#000">1595</text>
<line x1="588.98" y1="211.6" x2="588.98" y2="214.4" stroke="#000" stroke-width="1.4"/>
<text x="589.28" y="225.3" font-size="11.7" font-weight="bold" text-anchor="middle" fill="#000">1650</text>
<line x1="426.8" y1="211.6" x2="426.8" y2="213.4" stroke="#000" stroke-width="1.1"/>
<line x1="435.33" y1="211.6" x2="435.33" y2="213.4" stroke="#000" stroke-width="1.1"/>
<line x1="443.87" y1="211.6" x2="443.87" y2="213.4" stroke="#000" stroke-width="1.1"/>
<line x1="452.4" y1="211.6" x2="452.4" y2="213.4" stroke="#000" stroke-width="1.1"/>
<line x1="469.48" y1="211.6" x2="469.48" y2="213.4" stroke="#000" stroke-width="1.1"/>
<line x1="478.01" y1="211.6" x2="478.01" y2="213.4" stroke="#000" stroke-width="1.1"/>
<line x1="486.55" y1="211.6" x2="486.55" y2="213.4" stroke="#000" stroke-width="1.1"/>
<line x1="495.08" y1="211.6" x2="495.08" y2="213.4" stroke="#000" stroke-width="1.1"/>
<line x1="512.16" y1="211.6" x2="512.16" y2="213.4" stroke="#000" stroke-width="1.1"/>
<line x1="520.69" y1="211.6" x2="520.69" y2="213.4" stroke="#000" stroke-width="1.1"/>
<line x1="529.23" y1="211.6" x2="529.23" y2="213.4" stroke="#000" stroke-width="1.1"/>
<line x1="537.76" y1="211.6" x2="537.76" y2="213.4" stroke="#000" stroke-width="1.1"/>
<line x1="554.84" y1="211.6" x2="554.84" y2="213.4" stroke="#000" stroke-width="1.1"/>
<line x1="563.37" y1="211.6" x2="563.37" y2="213.4" stroke="#000" stroke-width="1.1"/>
<line x1="571.91" y1="211.6" x2="571.91" y2="213.4" stroke="#000" stroke-width="1.1"/>
<line x1="580.44" y1="211.6" x2="580.44" y2="213.4" stroke="#000" stroke-width="1.1"/>
<line x1="597.52" y1="211.6" x2="597.52" y2="213.4" stroke="#000" stroke-width="1.1"/>
<line x1="658.85" y1="127" x2="661.85" y2="127" stroke="#000" stroke-width="1.3"/>
<line x1="646.6" y1="145.8" x2="649.6" y2="145.8" stroke="#000" stroke-width="1.3"/>
<line x1="634.35" y1="164.6" x2="637.35" y2="164.6" stroke="#000" stroke-width="1.3"/>
<line x1="622.1" y1="183.4" x2="625.1" y2="183.4" stroke="#000" stroke-width="1.3"/>
<line x1="609.85" y1="202.2" x2="612.85" y2="202.2" stroke="#000" stroke-width="1.3"/>
<text x="514.8" y="239" font-size="13" font-weight="bold" text-anchor="middle" textLength="91.6" lengthAdjust="spacingAndGlyphs" fill="#000">Wavelength(nm)</text>
<text x="387" y="162.2" font-size="12.5" font-weight="bold" text-anchor="middle" textLength="86" lengthAdjust="spacingAndGlyphs" fill="#000" transform="rotate(-90 387 162.2)">Intensity(dBm)</text>
<text x="365.5" y="17.3" font-size="19" font-weight="bold" textLength="10" lengthAdjust="spacingAndGlyphs" fill="#000">b</text>
<text x="0" y="3.4" font-size="9.6" text-anchor="middle" fill="#000" stroke="#000" stroke-width="0.35" transform="translate(667.1 128.2) skewX(-35)">1</text>
<text x="0" y="3.4" font-size="9.6" text-anchor="middle" fill="#000" stroke="#000" stroke-width="0.35" transform="translate(654.8 146.8) skewX(-35)">2</text>
<text x="0" y="3.4" font-size="9.6" text-anchor="middle" fill="#000" stroke="#000" stroke-width="0.35" transform="translate(642.5 165.4) skewX(-35)">3</text>
<text x="0" y="3.4" font-size="9.6" text-anchor="middle" fill="#000" stroke="#000" stroke-width="0.35" transform="translate(630.2 184) skewX(-35)">4</text>
<text x="0" y="3.4" font-size="9.6" text-anchor="middle" fill="#000" stroke="#000" stroke-width="0.35" transform="translate(617.9 202.6) skewX(-35)">5</text>
<text x="0" y="0" font-size="12.6" font-weight="bold" text-anchor="middle" textLength="103" lengthAdjust="spacingAndGlyphs" transform="translate(656.1 175.2) rotate(-54.4)">Operation time(h)</text>
<text x="484.8" y="186.1" font-size="12.4" textLength="77.4" lengthAdjust="spacingAndGlyphs" fill="#1a1a1a">Δλ=30.26 nm</text>
<text x="484.8" y="204.5" font-size="12.4" fill="#1a1a1a">λ</text>
<text x="492" y="211" font-size="9" font-weight="bold" fill="#1a1a1a">c</text>
<text x="497.5" y="204.5" font-size="12.4" textLength="75.6" lengthAdjust="spacingAndGlyphs" fill="#1a1a1a">=1557.53 nm</text>
</svg></body></html>
